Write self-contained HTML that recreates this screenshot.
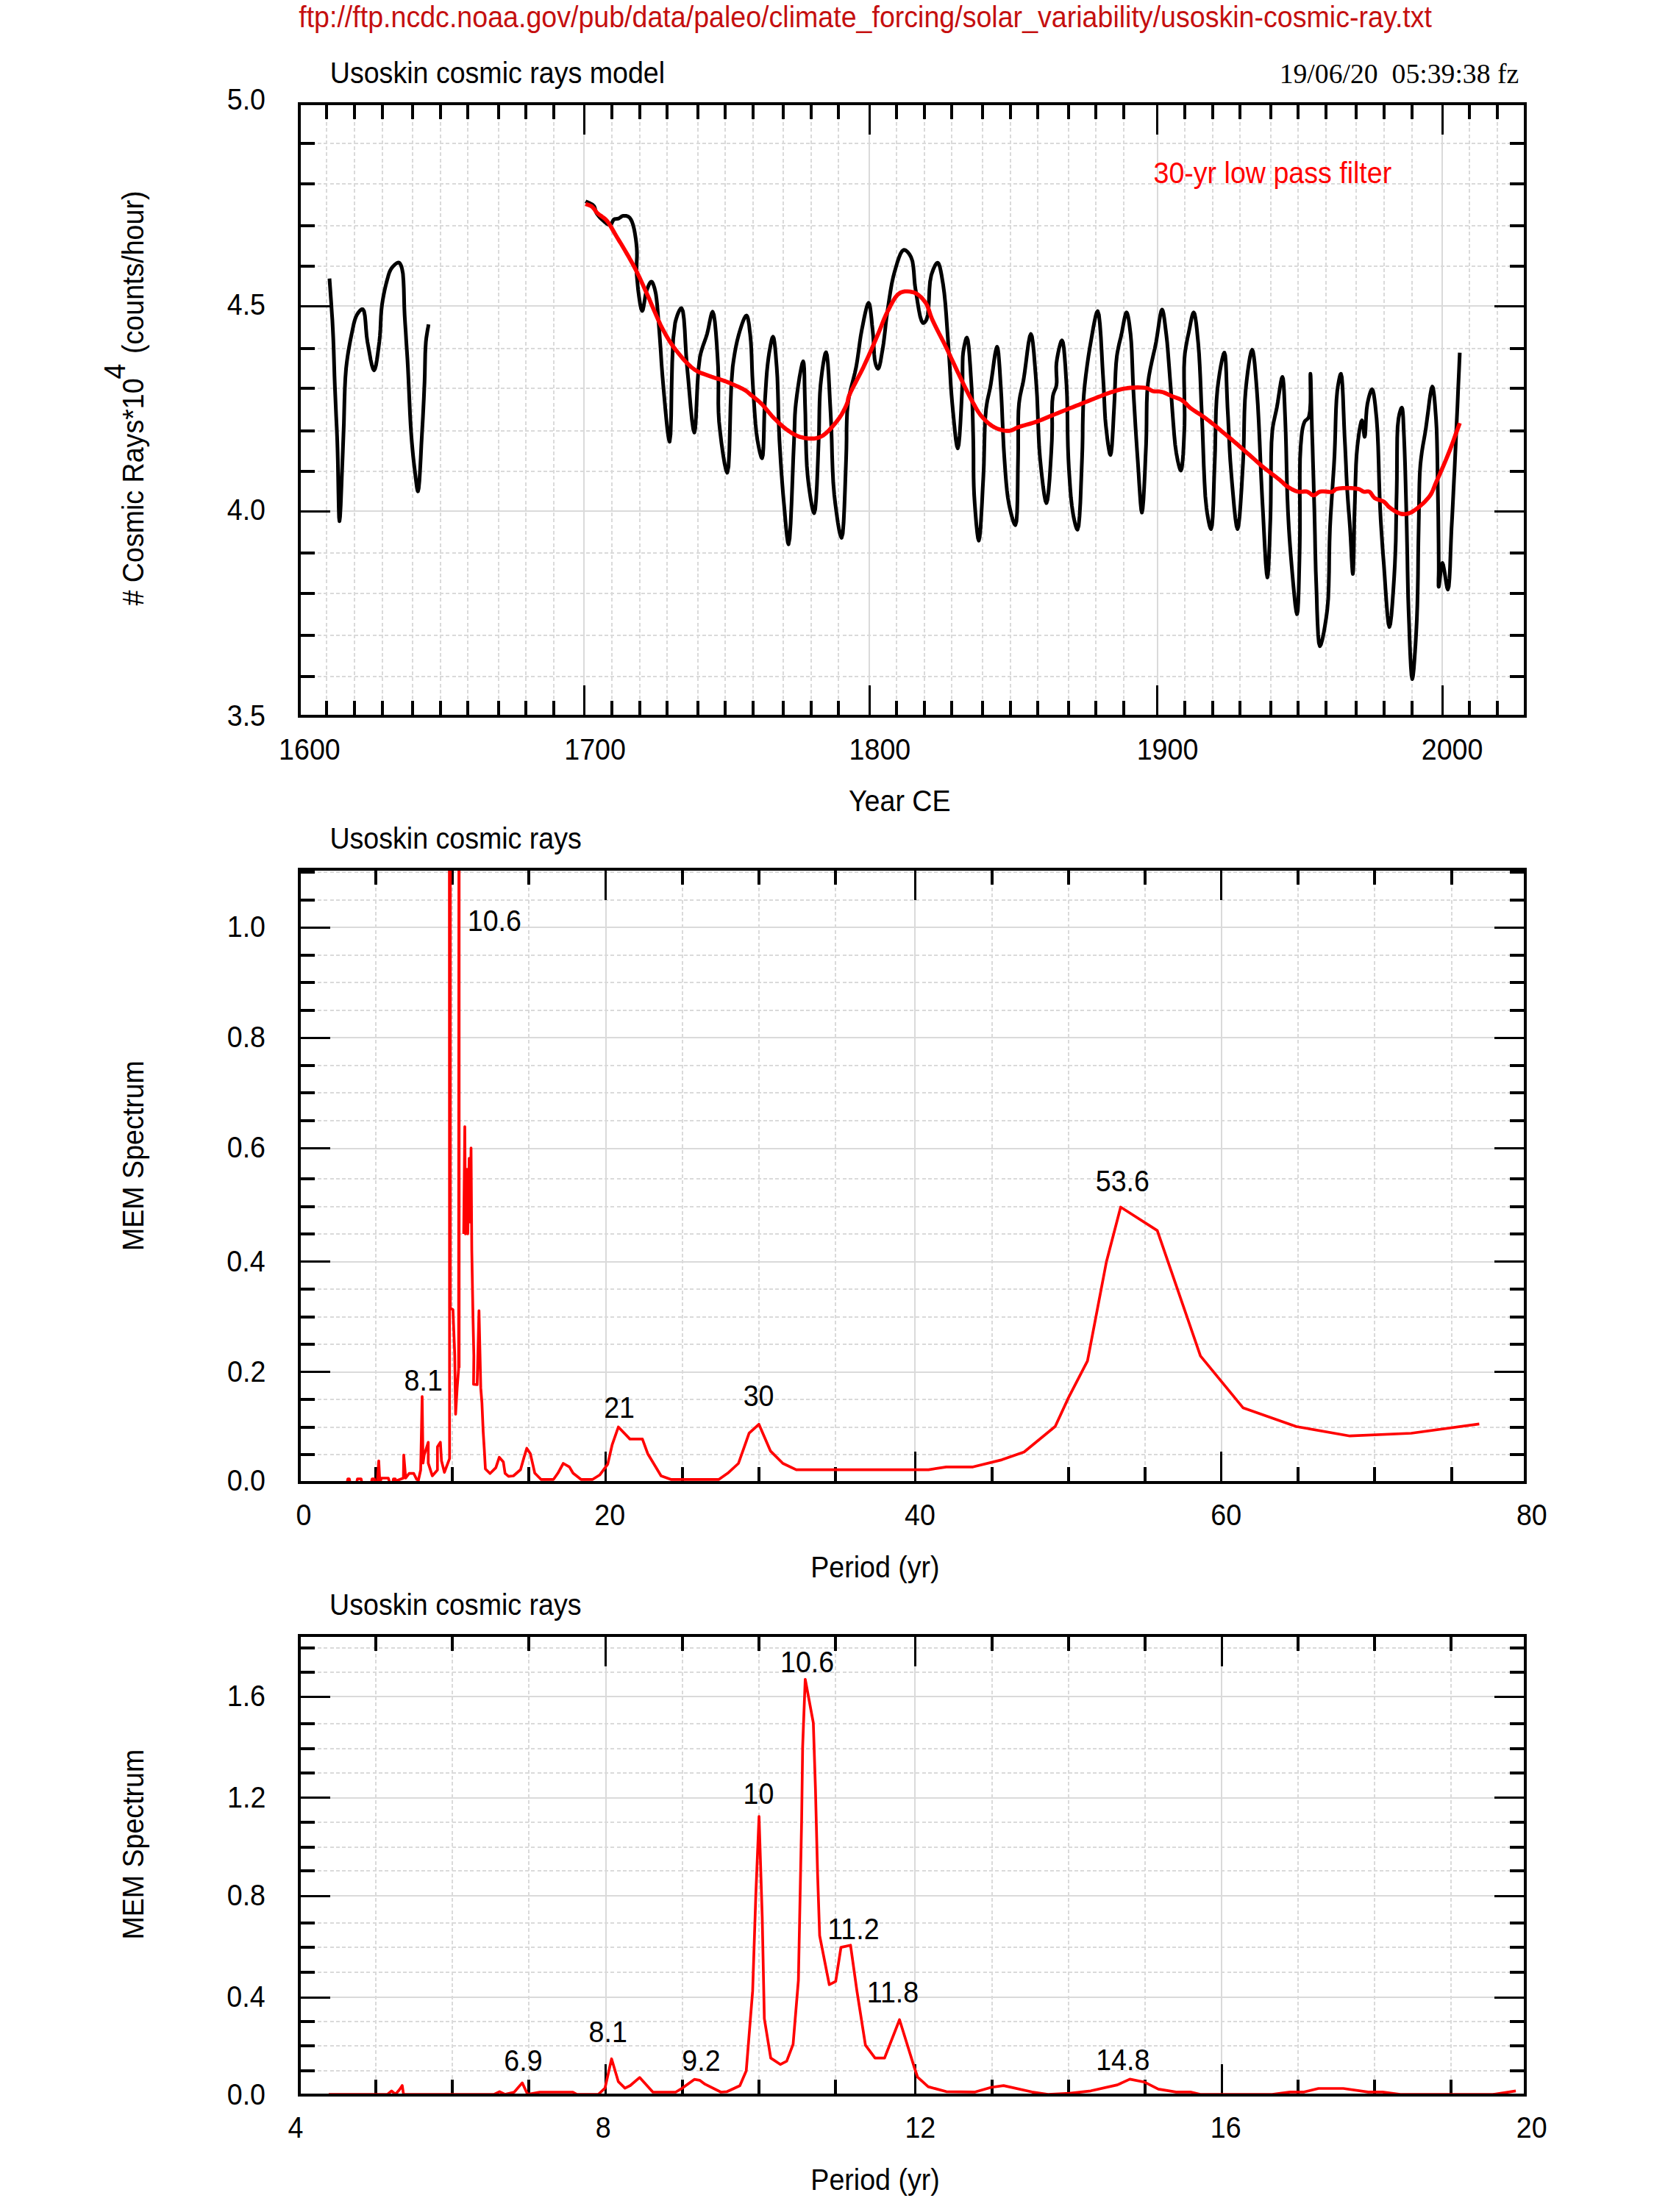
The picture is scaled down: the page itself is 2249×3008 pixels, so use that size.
<!DOCTYPE html><html><head><meta charset="utf-8"><title>Usoskin cosmic rays</title><style>html,body{margin:0;padding:0;background:#fff;width:2249px;height:3008px;overflow:hidden}svg{display:block}</style></head><body><svg width="2249" height="3008" viewBox="0 0 2249 3008">
<rect width="100%" height="100%" fill="#fff"/>
<defs><clipPath id="c1"><rect x="407" y="141" width="1667" height="833"/></clipPath><clipPath id="c2"><rect x="407" y="1182" width="1667" height="834"/></clipPath><clipPath id="c3"><rect x="407" y="2224" width="1667" height="625"/></clipPath></defs>
<line x1="444.0" y1="141" x2="444.0" y2="974" stroke="#dadada" stroke-width="2" stroke-dasharray="5 3.3" shape-rendering="crispEdges"/>
<line x1="482.0" y1="141" x2="482.0" y2="974" stroke="#dadada" stroke-width="2" stroke-dasharray="5 3.3" shape-rendering="crispEdges"/>
<line x1="520.0" y1="141" x2="520.0" y2="974" stroke="#dadada" stroke-width="2" stroke-dasharray="5 3.3" shape-rendering="crispEdges"/>
<line x1="561.0" y1="141" x2="561.0" y2="974" stroke="#dadada" stroke-width="2" stroke-dasharray="5 3.3" shape-rendering="crispEdges"/>
<line x1="599.0" y1="141" x2="599.0" y2="974" stroke="#dadada" stroke-width="2" stroke-dasharray="5 3.3" shape-rendering="crispEdges"/>
<line x1="636.0" y1="141" x2="636.0" y2="974" stroke="#dadada" stroke-width="2" stroke-dasharray="5 3.3" shape-rendering="crispEdges"/>
<line x1="678.0" y1="141" x2="678.0" y2="974" stroke="#dadada" stroke-width="2" stroke-dasharray="5 3.3" shape-rendering="crispEdges"/>
<line x1="715.0" y1="141" x2="715.0" y2="974" stroke="#dadada" stroke-width="2" stroke-dasharray="5 3.3" shape-rendering="crispEdges"/>
<line x1="753.0" y1="141" x2="753.0" y2="974" stroke="#dadada" stroke-width="2" stroke-dasharray="5 3.3" shape-rendering="crispEdges"/>
<line x1="794.0" y1="141" x2="794.0" y2="974" stroke="#dadada" stroke-width="2" shape-rendering="crispEdges"/>
<line x1="832.0" y1="141" x2="832.0" y2="974" stroke="#dadada" stroke-width="2" stroke-dasharray="5 3.3" shape-rendering="crispEdges"/>
<line x1="870.0" y1="141" x2="870.0" y2="974" stroke="#dadada" stroke-width="2" stroke-dasharray="5 3.3" shape-rendering="crispEdges"/>
<line x1="907.0" y1="141" x2="907.0" y2="974" stroke="#dadada" stroke-width="2" stroke-dasharray="5 3.3" shape-rendering="crispEdges"/>
<line x1="949.0" y1="141" x2="949.0" y2="974" stroke="#dadada" stroke-width="2" stroke-dasharray="5 3.3" shape-rendering="crispEdges"/>
<line x1="986.0" y1="141" x2="986.0" y2="974" stroke="#dadada" stroke-width="2" stroke-dasharray="5 3.3" shape-rendering="crispEdges"/>
<line x1="1024.0" y1="141" x2="1024.0" y2="974" stroke="#dadada" stroke-width="2" stroke-dasharray="5 3.3" shape-rendering="crispEdges"/>
<line x1="1065.0" y1="141" x2="1065.0" y2="974" stroke="#dadada" stroke-width="2" stroke-dasharray="5 3.3" shape-rendering="crispEdges"/>
<line x1="1103.0" y1="141" x2="1103.0" y2="974" stroke="#dadada" stroke-width="2" stroke-dasharray="5 3.3" shape-rendering="crispEdges"/>
<line x1="1140.0" y1="141" x2="1140.0" y2="974" stroke="#dadada" stroke-width="2" stroke-dasharray="5 3.3" shape-rendering="crispEdges"/>
<line x1="1182.0" y1="141" x2="1182.0" y2="974" stroke="#dadada" stroke-width="2" shape-rendering="crispEdges"/>
<line x1="1219.0" y1="141" x2="1219.0" y2="974" stroke="#dadada" stroke-width="2" stroke-dasharray="5 3.3" shape-rendering="crispEdges"/>
<line x1="1257.0" y1="141" x2="1257.0" y2="974" stroke="#dadada" stroke-width="2" stroke-dasharray="5 3.3" shape-rendering="crispEdges"/>
<line x1="1294.0" y1="141" x2="1294.0" y2="974" stroke="#dadada" stroke-width="2" stroke-dasharray="5 3.3" shape-rendering="crispEdges"/>
<line x1="1336.0" y1="141" x2="1336.0" y2="974" stroke="#dadada" stroke-width="2" stroke-dasharray="5 3.3" shape-rendering="crispEdges"/>
<line x1="1374.0" y1="141" x2="1374.0" y2="974" stroke="#dadada" stroke-width="2" stroke-dasharray="5 3.3" shape-rendering="crispEdges"/>
<line x1="1411.0" y1="141" x2="1411.0" y2="974" stroke="#dadada" stroke-width="2" stroke-dasharray="5 3.3" shape-rendering="crispEdges"/>
<line x1="1453.0" y1="141" x2="1453.0" y2="974" stroke="#dadada" stroke-width="2" stroke-dasharray="5 3.3" shape-rendering="crispEdges"/>
<line x1="1490.0" y1="141" x2="1490.0" y2="974" stroke="#dadada" stroke-width="2" stroke-dasharray="5 3.3" shape-rendering="crispEdges"/>
<line x1="1528.0" y1="141" x2="1528.0" y2="974" stroke="#dadada" stroke-width="2" stroke-dasharray="5 3.3" shape-rendering="crispEdges"/>
<line x1="1574.0" y1="141" x2="1574.0" y2="974" stroke="#dadada" stroke-width="2" shape-rendering="crispEdges"/>
<line x1="1611.0" y1="141" x2="1611.0" y2="974" stroke="#dadada" stroke-width="2" stroke-dasharray="5 3.3" shape-rendering="crispEdges"/>
<line x1="1649.0" y1="141" x2="1649.0" y2="974" stroke="#dadada" stroke-width="2" stroke-dasharray="5 3.3" shape-rendering="crispEdges"/>
<line x1="1686.0" y1="141" x2="1686.0" y2="974" stroke="#dadada" stroke-width="2" stroke-dasharray="5 3.3" shape-rendering="crispEdges"/>
<line x1="1728.0" y1="141" x2="1728.0" y2="974" stroke="#dadada" stroke-width="2" stroke-dasharray="5 3.3" shape-rendering="crispEdges"/>
<line x1="1765.0" y1="141" x2="1765.0" y2="974" stroke="#dadada" stroke-width="2" stroke-dasharray="5 3.3" shape-rendering="crispEdges"/>
<line x1="1803.0" y1="141" x2="1803.0" y2="974" stroke="#dadada" stroke-width="2" stroke-dasharray="5 3.3" shape-rendering="crispEdges"/>
<line x1="1844.0" y1="141" x2="1844.0" y2="974" stroke="#dadada" stroke-width="2" stroke-dasharray="5 3.3" shape-rendering="crispEdges"/>
<line x1="1882.0" y1="141" x2="1882.0" y2="974" stroke="#dadada" stroke-width="2" stroke-dasharray="5 3.3" shape-rendering="crispEdges"/>
<line x1="1920.0" y1="141" x2="1920.0" y2="974" stroke="#dadada" stroke-width="2" stroke-dasharray="5 3.3" shape-rendering="crispEdges"/>
<line x1="1961.0" y1="141" x2="1961.0" y2="974" stroke="#dadada" stroke-width="2" shape-rendering="crispEdges"/>
<line x1="1998.0" y1="141" x2="1998.0" y2="974" stroke="#dadada" stroke-width="2" stroke-dasharray="5 3.3" shape-rendering="crispEdges"/>
<line x1="2036.0" y1="141" x2="2036.0" y2="974" stroke="#dadada" stroke-width="2" stroke-dasharray="5 3.3" shape-rendering="crispEdges"/>
<line x1="407" y1="195.0" x2="2074" y2="195.0" stroke="#dadada" stroke-width="2" stroke-dasharray="5 3.3" shape-rendering="crispEdges"/>
<line x1="407" y1="250.0" x2="2074" y2="250.0" stroke="#dadada" stroke-width="2" stroke-dasharray="5 3.3" shape-rendering="crispEdges"/>
<line x1="407" y1="307.0" x2="2074" y2="307.0" stroke="#dadada" stroke-width="2" stroke-dasharray="5 3.3" shape-rendering="crispEdges"/>
<line x1="407" y1="362.0" x2="2074" y2="362.0" stroke="#dadada" stroke-width="2" stroke-dasharray="5 3.3" shape-rendering="crispEdges"/>
<line x1="407" y1="416.0" x2="2074" y2="416.0" stroke="#dadada" stroke-width="2" shape-rendering="crispEdges"/>
<line x1="407" y1="474.0" x2="2074" y2="474.0" stroke="#dadada" stroke-width="2" stroke-dasharray="5 3.3" shape-rendering="crispEdges"/>
<line x1="407" y1="528.0" x2="2074" y2="528.0" stroke="#dadada" stroke-width="2" stroke-dasharray="5 3.3" shape-rendering="crispEdges"/>
<line x1="407" y1="586.0" x2="2074" y2="586.0" stroke="#dadada" stroke-width="2" stroke-dasharray="5 3.3" shape-rendering="crispEdges"/>
<line x1="407" y1="641.0" x2="2074" y2="641.0" stroke="#dadada" stroke-width="2" stroke-dasharray="5 3.3" shape-rendering="crispEdges"/>
<line x1="407" y1="695.0" x2="2074" y2="695.0" stroke="#dadada" stroke-width="2" shape-rendering="crispEdges"/>
<line x1="407" y1="752.0" x2="2074" y2="752.0" stroke="#dadada" stroke-width="2" stroke-dasharray="5 3.3" shape-rendering="crispEdges"/>
<line x1="407" y1="807.0" x2="2074" y2="807.0" stroke="#dadada" stroke-width="2" stroke-dasharray="5 3.3" shape-rendering="crispEdges"/>
<line x1="407" y1="864.0" x2="2074" y2="864.0" stroke="#dadada" stroke-width="2" stroke-dasharray="5 3.3" shape-rendering="crispEdges"/>
<line x1="407" y1="920.0" x2="2074" y2="920.0" stroke="#dadada" stroke-width="2" stroke-dasharray="5 3.3" shape-rendering="crispEdges"/>
<line x1="444.0" y1="974" x2="444.0" y2="953" stroke="#000" stroke-width="4" shape-rendering="crispEdges"/>
<line x1="444.0" y1="141" x2="444.0" y2="162" stroke="#000" stroke-width="4" shape-rendering="crispEdges"/>
<line x1="482.0" y1="974" x2="482.0" y2="953" stroke="#000" stroke-width="4" shape-rendering="crispEdges"/>
<line x1="482.0" y1="141" x2="482.0" y2="162" stroke="#000" stroke-width="4" shape-rendering="crispEdges"/>
<line x1="520.0" y1="974" x2="520.0" y2="953" stroke="#000" stroke-width="4" shape-rendering="crispEdges"/>
<line x1="520.0" y1="141" x2="520.0" y2="162" stroke="#000" stroke-width="4" shape-rendering="crispEdges"/>
<line x1="561.0" y1="974" x2="561.0" y2="953" stroke="#000" stroke-width="4" shape-rendering="crispEdges"/>
<line x1="561.0" y1="141" x2="561.0" y2="162" stroke="#000" stroke-width="4" shape-rendering="crispEdges"/>
<line x1="599.0" y1="974" x2="599.0" y2="953" stroke="#000" stroke-width="4" shape-rendering="crispEdges"/>
<line x1="599.0" y1="141" x2="599.0" y2="162" stroke="#000" stroke-width="4" shape-rendering="crispEdges"/>
<line x1="636.0" y1="974" x2="636.0" y2="953" stroke="#000" stroke-width="4" shape-rendering="crispEdges"/>
<line x1="636.0" y1="141" x2="636.0" y2="162" stroke="#000" stroke-width="4" shape-rendering="crispEdges"/>
<line x1="678.0" y1="974" x2="678.0" y2="953" stroke="#000" stroke-width="4" shape-rendering="crispEdges"/>
<line x1="678.0" y1="141" x2="678.0" y2="162" stroke="#000" stroke-width="4" shape-rendering="crispEdges"/>
<line x1="715.0" y1="974" x2="715.0" y2="953" stroke="#000" stroke-width="4" shape-rendering="crispEdges"/>
<line x1="715.0" y1="141" x2="715.0" y2="162" stroke="#000" stroke-width="4" shape-rendering="crispEdges"/>
<line x1="753.0" y1="974" x2="753.0" y2="953" stroke="#000" stroke-width="4" shape-rendering="crispEdges"/>
<line x1="753.0" y1="141" x2="753.0" y2="162" stroke="#000" stroke-width="4" shape-rendering="crispEdges"/>
<line x1="794.5" y1="974" x2="794.5" y2="932" stroke="#000" stroke-width="3" shape-rendering="crispEdges"/>
<line x1="794.5" y1="141" x2="794.5" y2="183" stroke="#000" stroke-width="3" shape-rendering="crispEdges"/>
<line x1="832.0" y1="974" x2="832.0" y2="953" stroke="#000" stroke-width="4" shape-rendering="crispEdges"/>
<line x1="832.0" y1="141" x2="832.0" y2="162" stroke="#000" stroke-width="4" shape-rendering="crispEdges"/>
<line x1="870.0" y1="974" x2="870.0" y2="953" stroke="#000" stroke-width="4" shape-rendering="crispEdges"/>
<line x1="870.0" y1="141" x2="870.0" y2="162" stroke="#000" stroke-width="4" shape-rendering="crispEdges"/>
<line x1="907.0" y1="974" x2="907.0" y2="953" stroke="#000" stroke-width="4" shape-rendering="crispEdges"/>
<line x1="907.0" y1="141" x2="907.0" y2="162" stroke="#000" stroke-width="4" shape-rendering="crispEdges"/>
<line x1="949.0" y1="974" x2="949.0" y2="953" stroke="#000" stroke-width="4" shape-rendering="crispEdges"/>
<line x1="949.0" y1="141" x2="949.0" y2="162" stroke="#000" stroke-width="4" shape-rendering="crispEdges"/>
<line x1="986.0" y1="974" x2="986.0" y2="953" stroke="#000" stroke-width="4" shape-rendering="crispEdges"/>
<line x1="986.0" y1="141" x2="986.0" y2="162" stroke="#000" stroke-width="4" shape-rendering="crispEdges"/>
<line x1="1024.0" y1="974" x2="1024.0" y2="953" stroke="#000" stroke-width="4" shape-rendering="crispEdges"/>
<line x1="1024.0" y1="141" x2="1024.0" y2="162" stroke="#000" stroke-width="4" shape-rendering="crispEdges"/>
<line x1="1065.0" y1="974" x2="1065.0" y2="953" stroke="#000" stroke-width="4" shape-rendering="crispEdges"/>
<line x1="1065.0" y1="141" x2="1065.0" y2="162" stroke="#000" stroke-width="4" shape-rendering="crispEdges"/>
<line x1="1103.0" y1="974" x2="1103.0" y2="953" stroke="#000" stroke-width="4" shape-rendering="crispEdges"/>
<line x1="1103.0" y1="141" x2="1103.0" y2="162" stroke="#000" stroke-width="4" shape-rendering="crispEdges"/>
<line x1="1140.0" y1="974" x2="1140.0" y2="953" stroke="#000" stroke-width="4" shape-rendering="crispEdges"/>
<line x1="1140.0" y1="141" x2="1140.0" y2="162" stroke="#000" stroke-width="4" shape-rendering="crispEdges"/>
<line x1="1182.5" y1="974" x2="1182.5" y2="932" stroke="#000" stroke-width="3" shape-rendering="crispEdges"/>
<line x1="1182.5" y1="141" x2="1182.5" y2="183" stroke="#000" stroke-width="3" shape-rendering="crispEdges"/>
<line x1="1219.0" y1="974" x2="1219.0" y2="953" stroke="#000" stroke-width="4" shape-rendering="crispEdges"/>
<line x1="1219.0" y1="141" x2="1219.0" y2="162" stroke="#000" stroke-width="4" shape-rendering="crispEdges"/>
<line x1="1257.0" y1="974" x2="1257.0" y2="953" stroke="#000" stroke-width="4" shape-rendering="crispEdges"/>
<line x1="1257.0" y1="141" x2="1257.0" y2="162" stroke="#000" stroke-width="4" shape-rendering="crispEdges"/>
<line x1="1294.0" y1="974" x2="1294.0" y2="953" stroke="#000" stroke-width="4" shape-rendering="crispEdges"/>
<line x1="1294.0" y1="141" x2="1294.0" y2="162" stroke="#000" stroke-width="4" shape-rendering="crispEdges"/>
<line x1="1336.0" y1="974" x2="1336.0" y2="953" stroke="#000" stroke-width="4" shape-rendering="crispEdges"/>
<line x1="1336.0" y1="141" x2="1336.0" y2="162" stroke="#000" stroke-width="4" shape-rendering="crispEdges"/>
<line x1="1374.0" y1="974" x2="1374.0" y2="953" stroke="#000" stroke-width="4" shape-rendering="crispEdges"/>
<line x1="1374.0" y1="141" x2="1374.0" y2="162" stroke="#000" stroke-width="4" shape-rendering="crispEdges"/>
<line x1="1411.0" y1="974" x2="1411.0" y2="953" stroke="#000" stroke-width="4" shape-rendering="crispEdges"/>
<line x1="1411.0" y1="141" x2="1411.0" y2="162" stroke="#000" stroke-width="4" shape-rendering="crispEdges"/>
<line x1="1453.0" y1="974" x2="1453.0" y2="953" stroke="#000" stroke-width="4" shape-rendering="crispEdges"/>
<line x1="1453.0" y1="141" x2="1453.0" y2="162" stroke="#000" stroke-width="4" shape-rendering="crispEdges"/>
<line x1="1490.0" y1="974" x2="1490.0" y2="953" stroke="#000" stroke-width="4" shape-rendering="crispEdges"/>
<line x1="1490.0" y1="141" x2="1490.0" y2="162" stroke="#000" stroke-width="4" shape-rendering="crispEdges"/>
<line x1="1528.0" y1="974" x2="1528.0" y2="953" stroke="#000" stroke-width="4" shape-rendering="crispEdges"/>
<line x1="1528.0" y1="141" x2="1528.0" y2="162" stroke="#000" stroke-width="4" shape-rendering="crispEdges"/>
<line x1="1573.5" y1="974" x2="1573.5" y2="932" stroke="#000" stroke-width="3" shape-rendering="crispEdges"/>
<line x1="1573.5" y1="141" x2="1573.5" y2="183" stroke="#000" stroke-width="3" shape-rendering="crispEdges"/>
<line x1="1611.0" y1="974" x2="1611.0" y2="953" stroke="#000" stroke-width="4" shape-rendering="crispEdges"/>
<line x1="1611.0" y1="141" x2="1611.0" y2="162" stroke="#000" stroke-width="4" shape-rendering="crispEdges"/>
<line x1="1649.0" y1="974" x2="1649.0" y2="953" stroke="#000" stroke-width="4" shape-rendering="crispEdges"/>
<line x1="1649.0" y1="141" x2="1649.0" y2="162" stroke="#000" stroke-width="4" shape-rendering="crispEdges"/>
<line x1="1686.0" y1="974" x2="1686.0" y2="953" stroke="#000" stroke-width="4" shape-rendering="crispEdges"/>
<line x1="1686.0" y1="141" x2="1686.0" y2="162" stroke="#000" stroke-width="4" shape-rendering="crispEdges"/>
<line x1="1728.0" y1="974" x2="1728.0" y2="953" stroke="#000" stroke-width="4" shape-rendering="crispEdges"/>
<line x1="1728.0" y1="141" x2="1728.0" y2="162" stroke="#000" stroke-width="4" shape-rendering="crispEdges"/>
<line x1="1765.0" y1="974" x2="1765.0" y2="953" stroke="#000" stroke-width="4" shape-rendering="crispEdges"/>
<line x1="1765.0" y1="141" x2="1765.0" y2="162" stroke="#000" stroke-width="4" shape-rendering="crispEdges"/>
<line x1="1803.0" y1="974" x2="1803.0" y2="953" stroke="#000" stroke-width="4" shape-rendering="crispEdges"/>
<line x1="1803.0" y1="141" x2="1803.0" y2="162" stroke="#000" stroke-width="4" shape-rendering="crispEdges"/>
<line x1="1844.0" y1="974" x2="1844.0" y2="953" stroke="#000" stroke-width="4" shape-rendering="crispEdges"/>
<line x1="1844.0" y1="141" x2="1844.0" y2="162" stroke="#000" stroke-width="4" shape-rendering="crispEdges"/>
<line x1="1882.0" y1="974" x2="1882.0" y2="953" stroke="#000" stroke-width="4" shape-rendering="crispEdges"/>
<line x1="1882.0" y1="141" x2="1882.0" y2="162" stroke="#000" stroke-width="4" shape-rendering="crispEdges"/>
<line x1="1920.0" y1="974" x2="1920.0" y2="953" stroke="#000" stroke-width="4" shape-rendering="crispEdges"/>
<line x1="1920.0" y1="141" x2="1920.0" y2="162" stroke="#000" stroke-width="4" shape-rendering="crispEdges"/>
<line x1="1961.5" y1="974" x2="1961.5" y2="932" stroke="#000" stroke-width="3" shape-rendering="crispEdges"/>
<line x1="1961.5" y1="141" x2="1961.5" y2="183" stroke="#000" stroke-width="3" shape-rendering="crispEdges"/>
<line x1="1998.0" y1="974" x2="1998.0" y2="953" stroke="#000" stroke-width="4" shape-rendering="crispEdges"/>
<line x1="1998.0" y1="141" x2="1998.0" y2="162" stroke="#000" stroke-width="4" shape-rendering="crispEdges"/>
<line x1="2036.0" y1="974" x2="2036.0" y2="953" stroke="#000" stroke-width="4" shape-rendering="crispEdges"/>
<line x1="2036.0" y1="141" x2="2036.0" y2="162" stroke="#000" stroke-width="4" shape-rendering="crispEdges"/>
<line x1="407" y1="195.0" x2="428" y2="195.0" stroke="#000" stroke-width="4" shape-rendering="crispEdges"/>
<line x1="2074" y1="195.0" x2="2053" y2="195.0" stroke="#000" stroke-width="4" shape-rendering="crispEdges"/>
<line x1="407" y1="250.0" x2="428" y2="250.0" stroke="#000" stroke-width="4" shape-rendering="crispEdges"/>
<line x1="2074" y1="250.0" x2="2053" y2="250.0" stroke="#000" stroke-width="4" shape-rendering="crispEdges"/>
<line x1="407" y1="307.0" x2="428" y2="307.0" stroke="#000" stroke-width="4" shape-rendering="crispEdges"/>
<line x1="2074" y1="307.0" x2="2053" y2="307.0" stroke="#000" stroke-width="4" shape-rendering="crispEdges"/>
<line x1="407" y1="362.0" x2="428" y2="362.0" stroke="#000" stroke-width="4" shape-rendering="crispEdges"/>
<line x1="2074" y1="362.0" x2="2053" y2="362.0" stroke="#000" stroke-width="4" shape-rendering="crispEdges"/>
<line x1="407" y1="416.5" x2="449" y2="416.5" stroke="#000" stroke-width="3" shape-rendering="crispEdges"/>
<line x1="2074" y1="416.5" x2="2032" y2="416.5" stroke="#000" stroke-width="3" shape-rendering="crispEdges"/>
<line x1="407" y1="474.0" x2="428" y2="474.0" stroke="#000" stroke-width="4" shape-rendering="crispEdges"/>
<line x1="2074" y1="474.0" x2="2053" y2="474.0" stroke="#000" stroke-width="4" shape-rendering="crispEdges"/>
<line x1="407" y1="528.0" x2="428" y2="528.0" stroke="#000" stroke-width="4" shape-rendering="crispEdges"/>
<line x1="2074" y1="528.0" x2="2053" y2="528.0" stroke="#000" stroke-width="4" shape-rendering="crispEdges"/>
<line x1="407" y1="586.0" x2="428" y2="586.0" stroke="#000" stroke-width="4" shape-rendering="crispEdges"/>
<line x1="2074" y1="586.0" x2="2053" y2="586.0" stroke="#000" stroke-width="4" shape-rendering="crispEdges"/>
<line x1="407" y1="641.0" x2="428" y2="641.0" stroke="#000" stroke-width="4" shape-rendering="crispEdges"/>
<line x1="2074" y1="641.0" x2="2053" y2="641.0" stroke="#000" stroke-width="4" shape-rendering="crispEdges"/>
<line x1="407" y1="695.5" x2="449" y2="695.5" stroke="#000" stroke-width="3" shape-rendering="crispEdges"/>
<line x1="2074" y1="695.5" x2="2032" y2="695.5" stroke="#000" stroke-width="3" shape-rendering="crispEdges"/>
<line x1="407" y1="752.0" x2="428" y2="752.0" stroke="#000" stroke-width="4" shape-rendering="crispEdges"/>
<line x1="2074" y1="752.0" x2="2053" y2="752.0" stroke="#000" stroke-width="4" shape-rendering="crispEdges"/>
<line x1="407" y1="807.0" x2="428" y2="807.0" stroke="#000" stroke-width="4" shape-rendering="crispEdges"/>
<line x1="2074" y1="807.0" x2="2053" y2="807.0" stroke="#000" stroke-width="4" shape-rendering="crispEdges"/>
<line x1="407" y1="864.0" x2="428" y2="864.0" stroke="#000" stroke-width="4" shape-rendering="crispEdges"/>
<line x1="2074" y1="864.0" x2="2053" y2="864.0" stroke="#000" stroke-width="4" shape-rendering="crispEdges"/>
<line x1="407" y1="920.0" x2="428" y2="920.0" stroke="#000" stroke-width="4" shape-rendering="crispEdges"/>
<line x1="2074" y1="920.0" x2="2053" y2="920.0" stroke="#000" stroke-width="4" shape-rendering="crispEdges"/>
<polyline points="448.0,378.8 448.8,390.0 449.6,401.2 450.4,412.4 451.1,423.7 451.9,435.0 452.5,446.6 453.1,459.2 453.6,472.0 454.0,484.9 454.4,497.9 454.8,511.1 455.3,524.3 455.9,538.2 456.5,552.1 457.1,566.1 457.8,580.3 458.4,594.7 458.9,609.3 459.4,627.7 459.8,649.3 460.2,671.0 460.6,690.1 461.0,703.6 461.6,708.8 462.4,702.6 463.3,686.5 464.2,663.7 465.2,638.0 466.2,612.6 467.0,591.2 467.6,575.1 468.0,559.0 468.4,543.3 468.9,528.2 469.6,513.9 470.6,500.8 471.6,492.2 472.7,484.1 473.9,476.5 475.2,469.2 476.5,462.3 477.9,455.6 478.9,450.5 480.0,445.4 481.0,440.5 482.2,436.0 483.5,431.9 485.1,428.5 486.3,426.5 487.7,424.5 489.2,422.7 490.6,421.3 492.0,420.5 493.2,420.4 495.0,423.2 496.2,429.4 497.0,437.7 497.7,447.2 498.5,456.6 499.6,464.7 501.0,472.2 502.5,480.7 504.0,489.2 505.6,496.4 507.2,501.6 508.6,503.5 509.9,501.6 511.3,496.5 512.5,489.3 513.7,480.9 514.8,472.4 515.8,464.7 516.6,456.5 517.2,447.9 517.6,439.2 518.0,430.4 518.6,421.9 519.5,414.0 520.5,407.7 521.6,401.5 522.8,395.5 524.1,389.8 525.4,384.5 526.7,379.7 527.5,376.8 528.2,374.2 529.0,371.7 529.9,369.4 530.9,367.2 532.1,365.2 533.5,363.3 535.3,361.4 537.1,359.6 539.0,358.1 540.7,357.2 542.1,357.0 543.1,357.5 543.9,358.4 544.7,359.7 545.4,361.3 546.0,363.2 546.6,365.2 547.9,372.2 548.6,381.7 549.1,392.8 549.4,404.8 549.7,417.0 550.2,428.5 550.9,440.2 551.7,451.9 552.4,463.8 553.2,475.9 554.0,488.2 554.7,500.8 555.4,515.5 556.1,531.0 556.8,546.8 557.5,562.4 558.3,577.4 559.2,591.2 560.0,601.3 560.9,611.2 561.8,620.7 562.8,629.7 563.8,638.0 564.7,645.5 565.3,650.4 565.9,655.4 566.5,660.3 567.1,664.3 567.7,667.1 568.3,668.1 569.3,664.1 570.3,653.7 571.2,639.1 572.1,622.3 572.9,605.7 573.7,591.2 574.4,578.9 575.1,566.6 575.7,554.3 576.3,542.2 576.8,530.3 577.3,518.9 577.6,509.2 577.8,499.4 578.0,489.9 578.2,480.8 578.6,472.3 579.1,464.7 579.6,460.2 580.2,456.1 580.8,452.3 581.4,448.7 582.1,445.0 582.7,441.2" fill="none" stroke="#000" stroke-width="5.0" stroke-linejoin="round" stroke-linecap="butt" clip-path="url(#c1)"/>
<polyline points="796.2,273.6 798.1,274.6 800.2,275.5 802.2,276.4 804.1,277.4 805.9,278.5 807.3,279.8 808.2,281.2 808.9,282.9 809.3,284.6 809.8,286.4 810.3,288.1 811.1,289.8 812.3,291.6 813.6,293.3 815.0,295.0 816.6,296.7 818.2,298.3 819.8,299.7 821.4,301.1 823.1,302.6 824.9,304.0 826.7,305.1 828.3,305.8 829.7,305.9 830.7,305.3 831.5,304.1 832.3,302.6 833.0,300.9 833.8,299.5 834.7,298.5 835.6,298.0 836.6,297.8 837.7,297.7 838.8,297.6 839.9,297.5 840.9,297.2 841.9,296.7 843.0,296.0 844.0,295.2 845.0,294.5 846.0,293.9 847.1,293.5 848.3,293.4 849.6,293.4 851.0,293.5 852.3,293.8 853.5,294.2 854.6,294.8 855.6,295.6 856.6,296.6 857.4,297.7 858.1,299.0 858.9,300.5 859.6,302.2 861.0,306.4 862.3,311.8 863.4,317.8 864.4,324.3 865.2,330.8 865.8,337.0 866.1,343.1 866.1,349.1 865.8,355.3 865.6,361.5 865.5,367.8 865.8,374.3 866.6,383.1 867.6,393.6 869.0,404.2 870.4,413.6 871.8,420.2 873.2,422.8 874.2,421.2 875.1,417.0 876.1,411.2 877.1,404.8 878.2,398.8 879.5,394.2 880.5,391.7 881.5,389.2 882.6,386.8 883.7,384.8 884.7,383.5 885.7,383.0 886.6,383.5 887.5,384.8 888.3,386.7 889.1,389.0 889.9,391.6 890.6,394.2 891.8,399.7 892.7,406.3 893.5,413.8 894.2,421.9 894.9,430.4 895.6,439.0 896.6,451.6 897.6,465.3 898.6,479.8 899.5,494.6 900.6,509.3 901.8,523.5 903.1,538.4 904.6,555.2 906.2,571.9 907.7,586.5 909.2,596.7 910.5,600.6 911.8,590.5 912.6,564.8 913.1,530.2 914.0,493.2 915.4,460.6 918.0,439.0 919.3,434.0 920.8,429.2 922.4,425.0 923.9,421.8 925.4,419.6 926.7,419.0 928.6,423.3 930.0,433.9 931.1,448.8 932.0,466.0 933.0,483.3 934.2,498.6 935.8,515.3 937.5,534.7 939.2,554.2 940.9,571.4 942.6,583.5 944.1,588.1 945.4,582.2 946.4,567.1 947.3,546.2 948.3,523.4 949.7,502.2 951.6,486.2 953.0,479.7 954.7,474.0 956.4,468.8 958.2,463.9 959.9,459.0 961.5,453.9 962.9,448.2 964.2,441.6 965.5,435.1 966.7,429.4 967.9,425.5 969.0,424.0 970.6,427.9 972.1,437.9 973.4,452.1 974.6,468.2 975.6,484.4 976.4,498.6 976.8,511.1 976.9,523.6 976.8,536.1 976.7,548.6 977.0,560.9 977.7,573.2 979.1,586.6 980.9,601.8 983.0,616.9 985.2,630.1 987.2,639.3 988.9,642.8 990.6,634.5 991.7,613.2 992.5,583.9 993.3,551.7 994.5,521.6 996.3,498.6 997.7,488.5 999.2,479.2 1000.8,470.6 1002.5,462.8 1004.4,455.5 1006.3,448.9 1007.7,444.5 1009.2,440.0 1010.8,435.7 1012.3,432.2 1013.8,429.8 1015.0,429.0 1016.1,430.2 1017.1,433.3 1017.9,437.7 1018.7,443.0 1019.3,448.7 1020.0,454.2 1020.9,463.7 1021.6,474.7 1022.1,486.7 1022.5,499.1 1023.0,511.7 1023.7,523.8 1024.5,536.6 1025.4,550.0 1026.3,563.5 1027.3,576.4 1028.5,588.3 1029.9,598.4 1030.9,603.9 1032.0,609.6 1033.1,614.8 1034.3,619.2 1035.3,622.2 1036.2,623.2 1037.3,619.2 1038.0,609.0 1038.5,594.7 1038.9,578.4 1039.3,562.3 1039.9,548.6 1040.6,537.6 1041.3,526.6 1042.0,515.7 1042.8,505.2 1043.8,495.4 1044.9,486.5 1045.8,480.4 1046.9,474.0 1048.0,467.9 1049.1,462.7 1050.1,459.2 1051.1,457.9 1052.1,459.8 1053.0,464.9 1053.9,472.2 1054.7,480.9 1055.4,490.1 1056.1,498.9 1057.0,513.0 1057.6,529.1 1058.1,546.3 1058.5,564.1 1059.1,581.7 1059.8,598.4 1060.7,613.5 1061.6,628.6 1062.6,643.5 1063.7,658.1 1064.8,672.1 1066.0,685.4 1067.0,696.5 1068.0,708.6 1069.1,720.4 1070.2,730.5 1071.2,737.5 1072.2,740.1 1073.7,732.0 1075.1,711.1 1076.4,682.4 1077.6,650.7 1078.7,621.1 1079.7,598.4 1080.1,588.7 1080.4,580.0 1080.6,572.1 1080.9,564.5 1081.4,556.8 1082.2,548.6 1083.5,537.9 1085.2,525.5 1087.1,513.0 1089.1,502.1 1090.8,494.3 1092.1,491.4 1092.9,494.2 1093.5,501.5 1093.8,511.9 1094.0,524.2 1094.3,536.8 1094.6,548.6 1095.1,564.0 1095.4,581.0 1095.8,598.8 1096.3,616.5 1097.1,633.2 1098.3,648.1 1099.5,658.6 1101.0,669.7 1102.6,680.3 1104.2,689.3 1105.7,695.5 1107.0,697.8 1108.5,692.5 1109.7,678.8 1110.8,659.6 1111.7,637.8 1112.5,616.4 1113.2,598.4 1113.7,585.1 1113.9,572.0 1114.1,559.2 1114.4,546.8 1114.9,535.0 1115.7,523.8 1116.7,514.6 1117.9,504.7 1119.3,495.0 1120.7,486.8 1122.0,481.1 1123.2,479.0 1124.5,483.1 1125.7,493.8 1126.7,509.0 1127.6,526.7 1128.5,544.8 1129.4,561.1 1130.3,579.2 1130.9,598.5 1131.4,618.3 1132.1,637.8 1133.0,656.3 1134.4,673.0 1135.8,685.2 1137.5,698.3 1139.3,710.8 1141.1,721.4 1142.9,728.7 1144.3,731.4 1145.9,725.6 1147.1,710.5 1148.1,689.5 1149.0,665.8 1149.8,642.6 1150.5,623.2 1150.9,609.8 1151.1,596.7 1151.1,584.1 1151.4,571.8 1151.9,560.0 1153.0,548.6 1154.4,539.7 1156.3,531.2 1158.3,523.1 1160.4,515.1 1162.4,507.1 1164.2,498.9 1165.6,490.5 1166.8,482.1 1168.0,473.6 1169.1,465.2 1170.3,457.1 1171.7,449.2 1173.2,441.8 1174.8,433.5 1176.5,425.5 1178.2,418.5 1179.7,413.7 1181.1,411.9 1182.3,413.8 1183.3,418.7 1184.2,425.7 1185.1,433.8 1185.8,441.9 1186.6,449.2 1187.3,456.8 1187.8,465.2 1188.2,473.7 1188.7,481.7 1189.3,488.6 1190.3,493.9 1190.8,495.7 1191.4,497.5 1192.1,499.1 1192.7,500.3 1193.4,501.1 1194.0,501.4 1195.1,500.0 1196.2,496.5 1197.3,491.6 1198.3,485.7 1199.3,479.7 1200.3,474.0 1201.4,466.6 1202.4,458.6 1203.4,450.2 1204.3,441.6 1205.3,432.9 1206.5,424.3 1207.9,415.1 1209.3,405.6 1210.8,396.0 1212.4,386.6 1214.3,377.7 1216.4,369.6 1218.2,363.4 1220.1,356.9 1222.2,350.7 1224.3,345.3 1226.6,341.5 1228.9,339.8 1230.5,340.0 1232.3,341.0 1234.1,342.6 1235.8,344.7 1237.4,347.2 1238.8,349.7 1240.7,355.2 1241.8,362.1 1242.6,370.0 1243.2,378.3 1243.9,386.7 1245.0,394.5 1246.4,402.9 1247.9,412.5 1249.5,422.0 1251.2,430.4 1253.1,436.5 1255.0,439.2 1255.8,439.2 1256.7,438.8 1257.6,438.0 1258.4,437.0 1259.2,435.7 1260.0,434.3 1261.6,427.8 1262.6,418.0 1263.2,406.4 1263.7,394.3 1264.6,383.2 1266.2,374.6 1267.5,370.6 1268.9,366.6 1270.5,362.9 1272.0,359.9 1273.5,357.9 1274.9,357.2 1276.4,358.6 1277.8,362.3 1279.0,367.5 1280.2,373.7 1281.3,380.4 1282.4,387.0 1284.0,398.9 1285.4,412.8 1286.6,428.0 1287.7,443.8 1288.8,459.3 1289.8,474.0 1290.7,486.9 1291.5,499.6 1292.2,512.1 1292.9,524.5 1293.8,536.7 1294.8,548.6 1295.9,560.5 1297.2,573.9 1298.5,587.1 1299.8,598.6 1301.1,606.6 1302.3,609.6 1303.6,604.9 1304.8,592.7 1305.9,575.7 1306.9,556.7 1307.8,538.5 1308.5,523.8 1308.8,515.3 1308.8,507.1 1308.8,499.4 1308.9,492.0 1309.1,485.2 1309.7,479.0 1310.4,474.7 1311.2,470.2 1312.1,466.0 1313.0,462.4 1313.9,460.0 1314.7,459.1 1316.0,462.4 1317.2,471.0 1318.2,483.1 1319.2,497.1 1320.1,511.3 1320.9,523.8 1321.6,535.9 1322.1,548.3 1322.5,560.8 1322.8,573.3 1323.1,585.9 1323.4,598.4 1323.6,610.9 1323.7,623.5 1323.7,636.1 1323.8,648.7 1324.1,661.0 1324.6,673.0 1325.4,685.1 1326.4,698.7 1327.5,712.2 1328.7,723.8 1329.8,732.0 1330.9,735.1 1332.0,730.7 1333.2,719.1 1334.2,702.6 1335.3,683.7 1336.2,664.8 1337.1,648.1 1337.8,632.4 1338.2,615.9 1338.6,599.3 1339.0,583.3 1339.7,568.7 1340.8,556.1 1341.7,549.8 1342.6,544.4 1343.7,539.4 1344.8,534.5 1345.9,529.4 1347.0,523.8 1348.4,514.6 1350.0,503.4 1351.5,491.9 1353.0,481.7 1354.5,474.4 1355.7,471.6 1356.8,474.1 1357.7,480.7 1358.5,490.2 1359.3,501.3 1360.0,512.9 1360.7,523.8 1361.6,538.8 1362.4,555.4 1363.1,573.0 1363.9,590.6 1364.7,607.6 1365.7,623.2 1366.5,634.7 1367.3,645.9 1368.2,656.8 1369.2,667.0 1370.4,676.6 1371.9,685.4 1373.2,691.5 1374.7,698.0 1376.3,704.1 1377.9,709.3 1379.4,712.8 1380.6,714.0 1382.1,709.1 1383.0,696.6 1383.5,679.2 1383.8,659.4 1384.0,639.9 1384.3,623.2 1384.5,610.0 1384.5,596.6 1384.5,583.5 1384.5,570.9 1384.8,559.1 1385.6,548.6 1386.4,542.5 1387.3,537.2 1388.4,532.3 1389.5,527.3 1390.7,522.1 1391.8,516.3 1393.4,505.7 1395.1,492.5 1396.8,478.7 1398.5,466.4 1400.2,457.6 1401.7,454.2 1403.2,457.6 1404.5,466.7 1405.8,479.5 1407.0,494.5 1408.2,509.9 1409.2,523.8 1410.2,539.6 1410.9,556.5 1411.5,573.9 1412.2,591.2 1413.0,607.8 1414.2,623.2 1415.4,635.6 1416.9,649.2 1418.4,662.2 1420.0,673.4 1421.5,681.2 1422.9,684.1 1424.4,679.5 1425.8,667.6 1427.2,651.0 1428.4,632.2 1429.5,613.8 1430.3,598.4 1430.6,587.4 1430.7,576.2 1430.5,565.4 1430.5,555.2 1430.8,546.2 1431.6,538.7 1432.3,535.7 1433.2,533.2 1434.1,530.9 1435.1,528.8 1435.9,526.5 1436.5,523.8 1436.9,519.4 1436.8,514.6 1436.5,509.5 1436.3,504.3 1436.2,499.0 1436.5,493.9 1437.3,488.0 1438.5,481.2 1439.9,474.5 1441.4,468.6 1442.8,464.4 1444.0,462.9 1445.4,465.9 1446.6,473.7 1447.6,484.9 1448.6,497.9 1449.4,511.4 1450.2,523.8 1450.9,539.1 1451.3,555.7 1451.5,572.9 1451.7,590.2 1452.1,607.2 1452.7,623.2 1453.4,636.8 1454.3,650.5 1455.2,663.9 1456.2,676.6 1457.5,688.0 1458.9,697.8 1459.8,702.9 1460.9,708.0 1462.0,712.7 1463.1,716.6 1464.2,719.3 1465.1,720.2 1466.7,715.1 1467.9,701.9 1469.0,683.4 1469.8,662.3 1470.6,641.3 1471.3,623.2 1471.8,608.3 1472.1,593.6 1472.2,579.0 1472.5,564.5 1472.9,550.2 1473.8,536.2 1475.0,523.1 1476.5,510.0 1478.2,497.0 1480.0,484.4 1481.9,472.5 1483.8,461.6 1485.2,453.5 1486.7,444.9 1488.3,436.7 1489.8,429.7 1491.2,424.9 1492.5,423.1 1494.2,428.0 1495.6,440.7 1496.9,458.4 1498.0,478.4 1499.0,497.9 1500.0,514.3 1500.7,525.9 1501.2,537.2 1501.7,548.3 1502.2,558.9 1502.8,569.2 1503.7,578.9 1504.6,587.0 1505.6,595.9 1506.7,604.4 1507.9,611.7 1508.9,616.8 1509.9,618.7 1510.9,615.4 1511.9,606.8 1512.7,594.6 1513.5,580.5 1514.2,566.4 1514.9,554.0 1515.5,542.2 1516.0,529.9 1516.4,517.5 1516.9,505.5 1517.6,494.3 1518.6,484.4 1519.5,478.7 1520.5,473.5 1521.5,468.7 1522.6,464.1 1523.8,459.4 1524.9,454.6 1526.0,448.9 1527.2,442.4 1528.4,436.0 1529.6,430.3 1530.7,426.3 1531.8,424.8 1532.8,426.2 1533.8,429.8 1534.8,435.1 1535.7,441.4 1536.5,448.1 1537.3,454.6 1538.2,464.9 1538.9,476.6 1539.4,489.1 1539.9,502.3 1540.4,515.8 1541.0,529.2 1541.9,545.2 1542.9,562.0 1543.9,579.2 1545.0,596.3 1546.1,612.9 1547.2,628.6 1548.1,642.3 1549.0,657.4 1550.0,672.2 1550.9,684.8 1551.8,693.7 1552.7,697.0 1553.7,692.2 1554.8,679.5 1555.8,661.7 1556.8,641.3 1557.6,621.2 1558.4,603.8 1558.8,589.6 1559.0,575.5 1559.1,561.5 1559.3,547.7 1559.8,534.4 1560.9,521.7 1562.3,511.4 1564.1,501.5 1566.1,491.9 1568.2,482.6 1570.3,473.5 1572.1,464.5 1573.5,455.9 1574.9,446.3 1576.3,436.9 1577.6,428.8 1578.9,423.1 1580.1,421.0 1581.1,422.6 1582.1,426.7 1583.1,432.8 1584.0,439.9 1584.9,447.4 1585.8,454.6 1587.0,465.3 1588.0,477.1 1589.0,489.7 1590.0,502.8 1591.0,516.1 1592.0,529.2 1593.1,544.0 1594.2,559.8 1595.4,575.7 1596.6,591.1 1597.9,604.8 1599.5,616.2 1600.5,621.6 1601.5,627.0 1602.7,632.0 1603.8,636.1 1604.8,638.8 1605.7,639.8 1606.9,636.8 1607.9,628.9 1608.8,617.7 1609.5,604.6 1610.1,591.2 1610.6,578.9 1610.8,564.2 1610.6,548.1 1610.3,531.5 1610.0,515.2 1610.0,500.1 1610.6,486.9 1611.3,479.6 1612.3,472.9 1613.4,466.7 1614.5,460.8 1615.7,455.2 1616.9,449.6 1617.9,444.6 1618.9,439.1 1620.0,433.7 1621.1,429.2 1622.1,426.0 1623.1,424.8 1624.3,426.8 1625.4,432.0 1626.5,439.5 1627.5,448.5 1628.4,457.9 1629.3,467.0 1630.4,481.0 1631.3,496.6 1632.1,513.4 1632.8,530.9 1633.5,548.8 1634.3,566.5 1635.2,587.4 1636.0,610.2 1636.8,633.3 1637.8,655.4 1638.9,675.0 1640.5,690.8 1641.4,697.4 1642.5,704.0 1643.6,710.0 1644.7,714.9 1645.8,718.2 1646.7,719.4 1648.0,714.7 1649.0,702.6 1649.8,685.5 1650.4,665.8 1651.0,646.1 1651.7,628.6 1652.3,611.9 1652.6,594.5 1653.0,577.0 1653.4,559.9 1654.2,543.8 1655.4,529.2 1656.7,518.7 1658.3,507.6 1660.1,497.0 1661.9,488.0 1663.5,481.8 1664.8,479.5 1666.0,483.3 1666.8,493.2 1667.4,507.1 1667.9,523.3 1668.5,539.5 1669.1,554.0 1669.9,568.2 1670.6,582.7 1671.3,597.4 1672.0,612.2 1672.9,626.8 1674.0,641.1 1675.2,656.2 1676.7,673.3 1678.2,690.3 1679.8,705.1 1681.3,715.5 1682.7,719.4 1684.1,714.8 1685.5,702.7 1686.8,685.6 1688.1,665.9 1689.2,646.1 1690.2,628.6 1691.0,611.9 1691.4,594.7 1691.7,577.3 1692.1,560.2 1692.8,544.0 1693.9,529.2 1695.1,518.1 1696.5,506.1 1698.1,494.7 1699.7,485.0 1701.2,478.2 1702.6,475.7 1703.8,478.1 1704.9,484.6 1706.0,494.1 1707.0,505.4 1708.0,517.5 1708.9,529.2 1710.3,550.0 1711.6,574.3 1712.8,600.7 1713.9,627.7 1715.1,654.1 1716.3,678.4 1717.5,699.7 1718.7,723.3 1719.9,746.3 1721.1,766.2 1722.3,780.1 1723.3,785.3 1724.1,781.3 1724.9,770.6 1725.6,755.4 1726.3,737.7 1726.9,719.6 1727.5,703.2 1727.9,684.1 1728.1,663.1 1728.2,641.5 1728.4,620.7 1728.9,601.9 1730.0,586.4 1730.8,579.9 1731.8,574.2 1732.9,569.2 1734.0,564.3 1735.1,559.4 1736.2,554.0 1737.5,546.4 1738.8,537.5 1740.2,528.3 1741.5,520.3 1742.7,514.6 1743.7,512.5 1744.7,515.2 1745.4,522.2 1746.0,532.4 1746.5,544.5 1747.0,557.2 1747.5,569.2 1748.2,587.5 1748.8,608.2 1749.3,630.3 1749.8,652.6 1750.4,674.1 1751.2,693.5 1751.9,707.1 1752.6,719.9 1753.4,732.2 1754.3,744.2 1755.2,756.1 1756.2,768.1 1757.3,781.1 1758.6,795.7 1760.0,810.3 1761.3,822.9 1762.6,831.8 1763.6,835.2 1764.6,830.7 1765.3,818.8 1765.9,801.8 1766.4,782.0 1766.9,761.7 1767.3,743.2 1767.6,720.9 1767.6,696.1 1767.4,670.6 1767.4,646.0 1767.7,624.1 1768.6,606.5 1769.2,599.5 1769.7,593.2 1770.4,587.4 1771.2,582.3 1772.3,577.9 1773.6,574.2 1774.5,572.6 1775.6,571.5 1776.7,570.6 1777.9,569.6 1778.9,568.4 1779.8,566.7 1781.2,558.9 1781.9,547.1 1782.0,533.8 1781.8,521.2 1781.7,511.9 1781.8,508.3 1782.1,511.0 1782.4,518.3 1782.6,528.8 1782.9,541.3 1783.2,554.3 1783.5,566.7 1784.0,585.2 1784.7,605.9 1785.3,628.0 1786.0,650.6 1786.6,672.7 1787.2,693.5 1787.6,710.9 1788.0,727.8 1788.3,744.4 1788.7,760.8 1789.1,776.9 1789.7,792.9 1790.3,809.5 1790.8,828.3 1791.5,846.8 1792.3,862.9 1793.3,874.3 1794.7,878.7 1796.1,876.5 1797.8,870.6 1799.7,861.9 1801.5,851.5 1803.2,840.6 1804.6,830.2 1806.0,814.2 1806.7,796.1 1807.2,776.8 1807.4,756.9 1807.8,737.2 1808.4,718.4 1809.3,701.4 1810.4,684.6 1811.5,667.9 1812.6,651.4 1813.7,635.0 1814.6,618.9 1815.2,603.4 1815.7,587.4 1816.1,571.6 1816.6,556.6 1817.3,543.1 1818.3,531.9 1819.0,526.5 1819.9,521.1 1820.8,516.2 1821.7,512.1 1822.5,509.3 1823.3,508.3 1824.5,512.8 1825.4,524.5 1826.2,540.9 1826.9,559.6 1827.6,578.1 1828.3,594.0 1829.0,606.9 1829.6,619.8 1830.2,632.6 1830.7,645.0 1831.3,657.1 1832.0,668.6 1832.6,677.4 1833.2,685.7 1833.8,693.8 1834.5,701.8 1835.1,709.9 1835.7,718.4 1836.4,729.8 1837.1,743.2 1837.7,756.8 1838.4,768.8 1839.0,777.3 1839.5,780.5 1840.0,776.1 1840.4,764.4 1840.8,747.9 1841.1,728.9 1841.4,710.0 1841.9,693.5 1842.4,678.5 1842.8,663.0 1843.3,647.5 1843.8,632.6 1844.6,618.7 1845.7,606.5 1846.6,599.0 1847.6,591.1 1848.7,583.7 1849.9,577.5 1850.9,573.3 1851.9,571.7 1852.6,573.4 1853.2,577.5 1853.9,582.9 1854.5,588.2 1855.0,592.4 1855.6,594.0 1856.2,591.5 1856.7,585.0 1857.1,576.1 1857.6,566.1 1858.3,556.7 1859.3,549.3 1860.2,545.0 1861.2,540.5 1862.4,536.3 1863.5,532.7 1864.6,530.3 1865.6,529.4 1866.8,531.2 1868.0,536.0 1869.0,543.0 1870.0,551.4 1870.9,560.4 1871.8,569.2 1873.0,586.3 1873.9,606.7 1874.6,629.0 1875.2,651.8 1875.9,673.8 1876.7,693.5 1877.4,707.0 1878.2,719.6 1879.0,731.7 1879.8,743.6 1880.7,755.6 1881.7,768.1 1882.8,783.8 1884.0,802.1 1885.3,820.6 1886.6,836.8 1887.9,848.2 1889.2,852.6 1890.5,848.4 1891.9,837.2 1893.2,821.4 1894.5,803.0 1895.7,784.5 1896.6,768.1 1897.3,752.0 1897.9,735.5 1898.2,718.9 1898.5,702.1 1898.7,685.3 1899.1,668.6 1899.4,651.0 1899.5,632.2 1899.6,613.4 1899.8,595.8 1900.4,580.6 1901.6,569.2 1902.3,565.6 1903.0,562.1 1903.9,559.0 1904.7,556.5 1905.4,554.9 1906.1,554.3 1906.9,556.1 1907.5,560.9 1908.0,567.9 1908.3,576.2 1908.7,585.2 1909.1,594.0 1909.8,610.8 1910.5,630.6 1911.1,652.3 1911.7,674.9 1912.3,697.2 1912.8,718.4 1913.2,737.5 1913.6,756.5 1913.9,775.3 1914.3,793.9 1914.7,812.2 1915.3,830.2 1916.0,848.4 1916.7,868.8 1917.5,889.0 1918.4,906.5 1919.3,918.8 1920.3,923.5 1921.3,919.6 1922.4,909.2 1923.5,894.3 1924.7,876.9 1925.7,859.0 1926.5,842.7 1927.2,823.3 1927.7,802.4 1928.1,780.8 1928.3,759.2 1928.6,738.2 1929.0,718.4 1929.3,702.7 1929.5,687.3 1929.7,672.3 1930.0,657.9 1930.5,644.2 1931.4,631.3 1932.4,622.2 1933.5,613.8 1934.8,605.7 1936.2,597.9 1937.6,589.9 1938.9,581.6 1940.3,571.2 1941.9,559.1 1943.4,546.8 1944.9,536.2 1946.3,528.6 1947.6,525.7 1948.6,527.7 1949.5,533.1 1950.4,540.9 1951.2,550.2 1951.9,559.9 1952.6,569.2 1953.4,583.4 1953.9,599.3 1954.3,616.4 1954.6,634.0 1954.8,651.6 1955.1,668.6 1955.4,685.9 1955.7,703.9 1955.9,722.0 1956.1,739.2 1956.2,754.9 1956.3,768.1 1956.3,774.8 1956.2,781.5 1956.0,787.8 1956.0,793.0 1956.0,796.6 1956.3,797.9 1956.8,795.5 1957.5,789.6 1958.4,781.8 1959.3,774.0 1960.3,768.0 1961.3,765.6 1962.4,768.3 1963.7,774.9 1965.1,783.6 1966.4,792.3 1967.6,799.0 1968.7,801.6 1970.0,797.4 1970.9,786.4 1971.7,770.8 1972.3,752.8 1973.0,734.6 1973.7,718.4 1974.6,702.5 1975.4,686.5 1976.2,670.2 1977.0,653.6 1977.9,636.6 1978.7,618.9 1979.7,597.1 1980.7,574.2 1981.8,550.8 1982.8,527.0 1983.9,503.2 1984.9,479.7" fill="none" stroke="#000" stroke-width="5.0" stroke-linejoin="round" stroke-linecap="butt" clip-path="url(#c1)"/>
<polyline points="796.2,277.3 797.7,277.9 799.2,278.4 800.7,278.9 802.1,279.5 803.6,280.1 804.9,281.0 806.2,282.2 807.4,283.6 808.6,285.1 809.7,286.7 810.9,288.3 812.3,289.8 814.2,291.4 816.2,292.9 818.4,294.4 820.6,296.0 822.8,297.7 824.8,299.7 827.0,302.5 829.1,305.6 831.1,309.0 833.1,312.5 835.1,316.0 837.2,319.6 839.6,323.6 842.1,327.7 844.7,331.9 847.2,336.2 849.7,340.4 852.1,344.5 854.3,348.2 856.3,351.9 858.4,355.5 860.4,359.1 862.4,362.9 864.5,366.9 866.9,371.8 869.4,376.9 871.8,382.2 874.3,387.7 876.8,393.3 879.5,399.2 883.0,407.0 886.6,415.6 890.4,424.4 894.2,433.1 898.0,441.4 901.8,448.9 904.6,454.0 907.4,458.8 910.1,463.4 912.9,467.7 915.9,472.0 919.2,476.3 923.0,481.0 927.0,485.8 931.2,490.6 935.5,495.0 939.8,499.1 944.1,502.4 947.4,504.5 950.6,506.1 953.9,507.5 957.2,508.7 960.6,509.9 964.0,511.1 967.6,512.4 971.3,513.6 975.0,514.7 978.7,515.8 982.5,517.1 986.4,518.5 991.1,520.4 996.1,522.5 1001.2,524.7 1006.0,526.9 1010.3,529.1 1013.7,531.0 1015.0,531.9 1016.1,532.7 1017.0,533.5 1017.9,534.3 1018.9,535.2 1020.0,536.2 1022.1,537.9 1024.5,539.8 1027.1,541.8 1029.7,544.0 1032.3,546.2 1034.9,548.6 1037.8,551.6 1040.6,554.9 1043.4,558.3 1046.3,561.8 1049.3,565.3 1052.3,568.5 1055.5,571.6 1058.7,574.8 1062.1,577.8 1065.4,580.8 1068.8,583.5 1072.2,585.9 1075.0,587.8 1077.8,589.5 1080.6,591.1 1083.5,592.5 1086.4,593.7 1089.6,594.6 1093.5,595.4 1097.6,596.1 1101.9,596.4 1106.3,596.4 1110.5,595.8 1114.5,594.6 1119.0,592.2 1123.5,588.7 1127.9,584.5 1132.0,580.0 1135.9,575.4 1139.3,571.0 1142.0,567.3 1144.5,563.4 1146.7,559.4 1148.7,555.5 1150.4,551.9 1151.8,548.6 1152.4,546.8 1152.8,545.3 1153.0,543.8 1153.3,542.3 1153.7,540.7 1154.3,538.7 1156.5,533.6 1159.5,527.5 1163.1,520.6 1166.9,513.3 1170.7,506.0 1174.2,498.9 1177.6,491.5 1181.1,483.9 1184.5,476.2 1187.8,468.6 1191.0,461.2 1194.0,454.2 1196.2,448.8 1198.2,443.7 1200.1,438.7 1202.1,433.8 1204.2,429.0 1206.5,424.3 1209.0,419.4 1211.6,414.3 1214.4,409.2 1217.3,404.6 1220.5,400.8 1223.9,398.2 1227.0,397.0 1230.3,396.3 1233.8,396.2 1237.3,396.5 1240.7,397.2 1243.8,398.2 1246.7,399.6 1249.4,401.5 1252.0,403.8 1254.4,406.3 1256.7,409.1 1258.7,411.9 1260.6,415.1 1262.0,418.6 1263.3,422.3 1264.5,426.1 1265.8,430.1 1267.5,434.3 1270.3,440.3 1273.5,446.8 1276.9,453.5 1280.5,460.4 1284.0,467.3 1287.3,474.0 1290.3,480.3 1293.2,486.6 1296.1,492.8 1299.0,499.0 1301.9,505.2 1304.8,511.3 1307.7,517.3 1310.6,523.4 1313.6,529.4 1316.5,535.3 1319.4,540.9 1322.2,546.1 1324.3,549.8 1326.2,553.4 1328.1,556.7 1330.1,560.0 1332.2,563.0 1334.6,566.0 1337.2,568.9 1339.9,571.7 1342.7,574.4 1345.7,576.9 1348.8,579.1 1352.0,581.0 1355.2,582.5 1358.6,583.8 1362.1,584.8 1365.5,585.5 1368.8,585.9 1371.9,585.9 1374.1,585.5 1376.1,584.9 1378.0,584.0 1380.0,583.0 1382.0,581.9 1384.3,581.0 1387.9,579.8 1392.0,578.6 1396.2,577.4 1400.6,576.2 1405.0,574.9 1409.2,573.5 1413.4,572.0 1417.5,570.3 1421.6,568.6 1425.7,566.9 1429.9,565.2 1434.0,563.5 1438.1,561.8 1442.3,560.2 1446.4,558.5 1450.6,556.9 1454.7,555.2 1458.9,553.6 1463.0,551.9 1467.2,550.3 1471.3,548.6 1475.4,547.0 1479.6,545.3 1483.8,543.7 1488.1,542.0 1492.5,540.2 1497.0,538.5 1501.4,536.7 1505.7,535.1 1510.0,533.7 1513.8,532.5 1517.4,531.3 1521.1,530.3 1524.7,529.3 1528.4,528.5 1532.3,527.9 1536.9,527.4 1541.9,527.1 1546.9,526.9 1551.8,527.0 1556.1,527.3 1559.7,527.9 1561.2,528.4 1562.5,529.1 1563.6,529.8 1564.7,530.5 1565.8,531.2 1567.1,531.7 1569.0,532.1 1571.0,532.2 1573.1,532.3 1575.2,532.3 1577.4,532.5 1579.6,532.9 1582.1,533.6 1584.6,534.6 1587.1,535.7 1589.6,536.9 1592.1,538.0 1594.5,539.1 1596.6,539.9 1598.8,540.6 1600.8,541.3 1602.9,542.1 1604.9,543.0 1606.9,544.1 1609.0,545.6 1611.1,547.5 1613.1,549.4 1615.1,551.5 1617.1,553.5 1619.3,555.3 1621.7,557.0 1624.2,558.7 1626.7,560.3 1629.2,561.9 1631.8,563.5 1634.3,565.2 1636.8,567.0 1639.3,568.8 1641.8,570.7 1644.3,572.5 1646.7,574.5 1649.2,576.4 1651.7,578.4 1654.2,580.5 1656.7,582.6 1659.1,584.7 1661.6,586.8 1664.1,588.9 1666.6,590.9 1669.0,593.0 1671.4,595.0 1673.9,597.0 1676.4,599.1 1679.0,601.3 1682.2,604.0 1685.4,606.9 1688.8,609.8 1692.2,612.8 1695.6,615.8 1698.9,618.7 1702.2,621.6 1705.5,624.5 1708.8,627.5 1712.1,630.4 1715.4,633.3 1718.8,636.1 1722.4,639.0 1726.1,641.8 1729.8,644.7 1733.5,647.4 1736.9,650.1 1740.0,652.5 1741.8,654.1 1743.5,655.6 1745.0,657.1 1746.5,658.5 1748.1,659.9 1749.9,661.2 1752.2,662.7 1754.6,664.1 1757.2,665.6 1759.8,666.8 1762.4,667.9 1764.9,668.6 1767.0,668.9 1769.2,668.8 1771.3,668.6 1773.4,668.4 1775.4,668.3 1777.3,668.6 1778.9,669.3 1780.4,670.3 1781.8,671.4 1783.2,672.5 1784.6,673.3 1786.0,673.6 1787.4,673.3 1788.8,672.5 1790.1,671.5 1791.5,670.3 1793.0,669.3 1794.7,668.6 1797.3,668.3 1800.4,668.3 1803.7,668.6 1806.9,668.9 1809.8,669.0 1812.1,668.6 1813.1,668.1 1813.9,667.5 1814.5,666.8 1815.2,666.1 1816.0,665.4 1817.1,664.9 1820.8,664.2 1825.9,663.7 1831.7,663.6 1837.5,663.8 1842.8,664.2 1846.9,664.9 1848.5,665.4 1849.8,666.1 1851.0,666.8 1852.1,667.6 1853.2,668.2 1854.4,668.6 1855.6,668.7 1856.9,668.6 1858.2,668.4 1859.4,668.3 1860.6,668.3 1861.8,668.6 1863.1,669.5 1864.3,670.9 1865.4,672.6 1866.6,674.3 1867.8,676.0 1869.3,677.3 1871.2,678.4 1873.3,679.2 1875.5,679.9 1877.7,680.5 1879.8,681.3 1881.7,682.3 1883.1,683.4 1884.3,684.6 1885.4,685.9 1886.6,687.2 1887.8,688.6 1889.2,689.8 1891.4,691.4 1893.8,693.1 1896.4,694.8 1899.1,696.4 1901.7,697.6 1904.1,698.5 1905.8,698.9 1907.5,699.1 1909.2,699.1 1910.8,699.0 1912.4,698.8 1914.0,698.5 1915.7,698.0 1917.3,697.4 1918.9,696.7 1920.5,695.8 1922.2,694.7 1924.0,693.5 1927.1,691.2 1930.6,688.4 1934.3,685.2 1937.9,681.7 1941.1,678.2 1943.9,674.8 1945.8,671.9 1947.3,669.0 1948.6,666.0 1949.8,663.0 1951.1,659.7 1952.6,656.2 1955.0,650.8 1957.7,644.9 1960.4,638.6 1963.2,632.1 1966.0,625.5 1968.7,618.9 1971.5,611.9 1974.2,604.7 1976.9,597.4 1979.5,590.0 1982.2,582.7 1984.9,575.4" fill="none" stroke="#ff0000" stroke-width="5.6" stroke-linejoin="round" stroke-linecap="butt" clip-path="url(#c1)"/>
<rect x="407" y="141" width="1667" height="833" fill="none" stroke="#000" stroke-width="4" shape-rendering="crispEdges"/>
<text transform="translate(406.20,37.20) scale(0.376,0.4)" font-family="Liberation Sans" font-size="100" fill="#c50f0f" xml:space="preserve">ftp://ftp.ncdc.noaa.gov/pub/data/paleo/climate_forcing/solar_variability/usoskin-cosmic-ray.txt</text>
<text transform="translate(448.79,112.50) scale(0.376,0.4)" font-family="Liberation Sans" font-size="100" fill="#000" xml:space="preserve">Usoskin cosmic rays model</text>
<text transform="translate(1739.66,112.50) scale(0.377,0.38)" font-family="Liberation Serif" font-size="100" fill="#000" xml:space="preserve">19/06/20  05:39:38 fz</text>
<text transform="translate(308.74,148.70) scale(0.376,0.4)" font-family="Liberation Sans" font-size="100" fill="#000" xml:space="preserve">5.0</text>
<text transform="translate(308.74,428.00) scale(0.376,0.4)" font-family="Liberation Sans" font-size="100" fill="#000" xml:space="preserve">4.5</text>
<text transform="translate(308.74,706.90) scale(0.376,0.4)" font-family="Liberation Sans" font-size="100" fill="#000" xml:space="preserve">4.0</text>
<text transform="translate(308.74,986.90) scale(0.376,0.4)" font-family="Liberation Sans" font-size="100" fill="#000" xml:space="preserve">3.5</text>
<text transform="translate(379.11,1032.60) scale(0.376,0.4)" font-family="Liberation Sans" font-size="100" fill="#000" xml:space="preserve">1600</text>
<text transform="translate(767.31,1032.60) scale(0.376,0.4)" font-family="Liberation Sans" font-size="100" fill="#000" xml:space="preserve">1700</text>
<text transform="translate(1154.61,1032.60) scale(0.376,0.4)" font-family="Liberation Sans" font-size="100" fill="#000" xml:space="preserve">1800</text>
<text transform="translate(1545.71,1032.60) scale(0.376,0.4)" font-family="Liberation Sans" font-size="100" fill="#000" xml:space="preserve">1900</text>
<text transform="translate(1932.78,1032.60) scale(0.376,0.4)" font-family="Liberation Sans" font-size="100" fill="#000" xml:space="preserve">2000</text>
<text transform="translate(1154.00,1102.50) scale(0.376,0.4)" font-family="Liberation Sans" font-size="100" fill="#000" xml:space="preserve">Year CE</text>
<text transform="translate(1568.52,248.50) scale(0.376,0.4)" font-family="Liberation Sans" font-size="100" fill="#ff0000" xml:space="preserve">30-yr low pass filter</text>
<text transform="translate(195.20,823.50) rotate(-90) scale(0.376,0.4)" font-family="Liberation Sans" font-size="100" fill="#000" xml:space="preserve"># Cosmic Rays*10</text>
<text transform="translate(169.80,515.55) rotate(-90) scale(0.376,0.4)" font-family="Liberation Sans" font-size="100" fill="#000" xml:space="preserve">4</text>
<text transform="translate(195.20,480.96) rotate(-90) scale(0.376,0.4)" font-family="Liberation Sans" font-size="100" fill="#000" xml:space="preserve">(counts/hour)</text>
<line x1="511.0" y1="1182" x2="511.0" y2="2016" stroke="#dadada" stroke-width="2" stroke-dasharray="5 3.3" shape-rendering="crispEdges"/>
<line x1="615.0" y1="1182" x2="615.0" y2="2016" stroke="#dadada" stroke-width="2" stroke-dasharray="5 3.3" shape-rendering="crispEdges"/>
<line x1="719.0" y1="1182" x2="719.0" y2="2016" stroke="#dadada" stroke-width="2" stroke-dasharray="5 3.3" shape-rendering="crispEdges"/>
<line x1="824.0" y1="1182" x2="824.0" y2="2016" stroke="#dadada" stroke-width="2" shape-rendering="crispEdges"/>
<line x1="928.0" y1="1182" x2="928.0" y2="2016" stroke="#dadada" stroke-width="2" stroke-dasharray="5 3.3" shape-rendering="crispEdges"/>
<line x1="1032.0" y1="1182" x2="1032.0" y2="2016" stroke="#dadada" stroke-width="2" stroke-dasharray="5 3.3" shape-rendering="crispEdges"/>
<line x1="1136.0" y1="1182" x2="1136.0" y2="2016" stroke="#dadada" stroke-width="2" stroke-dasharray="5 3.3" shape-rendering="crispEdges"/>
<line x1="1244.0" y1="1182" x2="1244.0" y2="2016" stroke="#dadada" stroke-width="2" shape-rendering="crispEdges"/>
<line x1="1349.0" y1="1182" x2="1349.0" y2="2016" stroke="#dadada" stroke-width="2" stroke-dasharray="5 3.3" shape-rendering="crispEdges"/>
<line x1="1453.0" y1="1182" x2="1453.0" y2="2016" stroke="#dadada" stroke-width="2" stroke-dasharray="5 3.3" shape-rendering="crispEdges"/>
<line x1="1557.0" y1="1182" x2="1557.0" y2="2016" stroke="#dadada" stroke-width="2" stroke-dasharray="5 3.3" shape-rendering="crispEdges"/>
<line x1="1661.0" y1="1182" x2="1661.0" y2="2016" stroke="#dadada" stroke-width="2" shape-rendering="crispEdges"/>
<line x1="1765.0" y1="1182" x2="1765.0" y2="2016" stroke="#dadada" stroke-width="2" stroke-dasharray="5 3.3" shape-rendering="crispEdges"/>
<line x1="1869.0" y1="1182" x2="1869.0" y2="2016" stroke="#dadada" stroke-width="2" stroke-dasharray="5 3.3" shape-rendering="crispEdges"/>
<line x1="1974.0" y1="1182" x2="1974.0" y2="2016" stroke="#dadada" stroke-width="2" stroke-dasharray="5 3.3" shape-rendering="crispEdges"/>
<line x1="407" y1="1186.0" x2="2074" y2="1186.0" stroke="#dadada" stroke-width="2" stroke-dasharray="5 3.3" shape-rendering="crispEdges"/>
<line x1="407" y1="1224.0" x2="2074" y2="1224.0" stroke="#dadada" stroke-width="2" stroke-dasharray="5 3.3" shape-rendering="crispEdges"/>
<line x1="407" y1="1261.0" x2="2074" y2="1261.0" stroke="#dadada" stroke-width="2" shape-rendering="crispEdges"/>
<line x1="407" y1="1299.0" x2="2074" y2="1299.0" stroke="#dadada" stroke-width="2" stroke-dasharray="5 3.3" shape-rendering="crispEdges"/>
<line x1="407" y1="1336.0" x2="2074" y2="1336.0" stroke="#dadada" stroke-width="2" stroke-dasharray="5 3.3" shape-rendering="crispEdges"/>
<line x1="407" y1="1374.0" x2="2074" y2="1374.0" stroke="#dadada" stroke-width="2" stroke-dasharray="5 3.3" shape-rendering="crispEdges"/>
<line x1="407" y1="1411.0" x2="2074" y2="1411.0" stroke="#dadada" stroke-width="2" shape-rendering="crispEdges"/>
<line x1="407" y1="1449.0" x2="2074" y2="1449.0" stroke="#dadada" stroke-width="2" stroke-dasharray="5 3.3" shape-rendering="crispEdges"/>
<line x1="407" y1="1486.0" x2="2074" y2="1486.0" stroke="#dadada" stroke-width="2" stroke-dasharray="5 3.3" shape-rendering="crispEdges"/>
<line x1="407" y1="1524.0" x2="2074" y2="1524.0" stroke="#dadada" stroke-width="2" stroke-dasharray="5 3.3" shape-rendering="crispEdges"/>
<line x1="407" y1="1562.0" x2="2074" y2="1562.0" stroke="#dadada" stroke-width="2" shape-rendering="crispEdges"/>
<line x1="407" y1="1603.0" x2="2074" y2="1603.0" stroke="#dadada" stroke-width="2" stroke-dasharray="5 3.3" shape-rendering="crispEdges"/>
<line x1="407" y1="1641.0" x2="2074" y2="1641.0" stroke="#dadada" stroke-width="2" stroke-dasharray="5 3.3" shape-rendering="crispEdges"/>
<line x1="407" y1="1678.0" x2="2074" y2="1678.0" stroke="#dadada" stroke-width="2" stroke-dasharray="5 3.3" shape-rendering="crispEdges"/>
<line x1="407" y1="1716.0" x2="2074" y2="1716.0" stroke="#dadada" stroke-width="2" shape-rendering="crispEdges"/>
<line x1="407" y1="1753.0" x2="2074" y2="1753.0" stroke="#dadada" stroke-width="2" stroke-dasharray="5 3.3" shape-rendering="crispEdges"/>
<line x1="407" y1="1791.0" x2="2074" y2="1791.0" stroke="#dadada" stroke-width="2" stroke-dasharray="5 3.3" shape-rendering="crispEdges"/>
<line x1="407" y1="1828.0" x2="2074" y2="1828.0" stroke="#dadada" stroke-width="2" stroke-dasharray="5 3.3" shape-rendering="crispEdges"/>
<line x1="407" y1="1866.0" x2="2074" y2="1866.0" stroke="#dadada" stroke-width="2" shape-rendering="crispEdges"/>
<line x1="407" y1="1903.0" x2="2074" y2="1903.0" stroke="#dadada" stroke-width="2" stroke-dasharray="5 3.3" shape-rendering="crispEdges"/>
<line x1="407" y1="1941.0" x2="2074" y2="1941.0" stroke="#dadada" stroke-width="2" stroke-dasharray="5 3.3" shape-rendering="crispEdges"/>
<line x1="407" y1="1978.0" x2="2074" y2="1978.0" stroke="#dadada" stroke-width="2" stroke-dasharray="5 3.3" shape-rendering="crispEdges"/>
<line x1="511.0" y1="2016" x2="511.0" y2="1995" stroke="#000" stroke-width="4" shape-rendering="crispEdges"/>
<line x1="511.0" y1="1182" x2="511.0" y2="1203" stroke="#000" stroke-width="4" shape-rendering="crispEdges"/>
<line x1="615.0" y1="2016" x2="615.0" y2="1995" stroke="#000" stroke-width="4" shape-rendering="crispEdges"/>
<line x1="615.0" y1="1182" x2="615.0" y2="1203" stroke="#000" stroke-width="4" shape-rendering="crispEdges"/>
<line x1="719.0" y1="2016" x2="719.0" y2="1995" stroke="#000" stroke-width="4" shape-rendering="crispEdges"/>
<line x1="719.0" y1="1182" x2="719.0" y2="1203" stroke="#000" stroke-width="4" shape-rendering="crispEdges"/>
<line x1="823.5" y1="2016" x2="823.5" y2="1974" stroke="#000" stroke-width="3" shape-rendering="crispEdges"/>
<line x1="823.5" y1="1182" x2="823.5" y2="1224" stroke="#000" stroke-width="3" shape-rendering="crispEdges"/>
<line x1="928.0" y1="2016" x2="928.0" y2="1995" stroke="#000" stroke-width="4" shape-rendering="crispEdges"/>
<line x1="928.0" y1="1182" x2="928.0" y2="1203" stroke="#000" stroke-width="4" shape-rendering="crispEdges"/>
<line x1="1032.0" y1="2016" x2="1032.0" y2="1995" stroke="#000" stroke-width="4" shape-rendering="crispEdges"/>
<line x1="1032.0" y1="1182" x2="1032.0" y2="1203" stroke="#000" stroke-width="4" shape-rendering="crispEdges"/>
<line x1="1136.0" y1="2016" x2="1136.0" y2="1995" stroke="#000" stroke-width="4" shape-rendering="crispEdges"/>
<line x1="1136.0" y1="1182" x2="1136.0" y2="1203" stroke="#000" stroke-width="4" shape-rendering="crispEdges"/>
<line x1="1244.5" y1="2016" x2="1244.5" y2="1974" stroke="#000" stroke-width="3" shape-rendering="crispEdges"/>
<line x1="1244.5" y1="1182" x2="1244.5" y2="1224" stroke="#000" stroke-width="3" shape-rendering="crispEdges"/>
<line x1="1349.0" y1="2016" x2="1349.0" y2="1995" stroke="#000" stroke-width="4" shape-rendering="crispEdges"/>
<line x1="1349.0" y1="1182" x2="1349.0" y2="1203" stroke="#000" stroke-width="4" shape-rendering="crispEdges"/>
<line x1="1453.0" y1="2016" x2="1453.0" y2="1995" stroke="#000" stroke-width="4" shape-rendering="crispEdges"/>
<line x1="1453.0" y1="1182" x2="1453.0" y2="1203" stroke="#000" stroke-width="4" shape-rendering="crispEdges"/>
<line x1="1557.0" y1="2016" x2="1557.0" y2="1995" stroke="#000" stroke-width="4" shape-rendering="crispEdges"/>
<line x1="1557.0" y1="1182" x2="1557.0" y2="1203" stroke="#000" stroke-width="4" shape-rendering="crispEdges"/>
<line x1="1660.5" y1="2016" x2="1660.5" y2="1974" stroke="#000" stroke-width="3" shape-rendering="crispEdges"/>
<line x1="1660.5" y1="1182" x2="1660.5" y2="1224" stroke="#000" stroke-width="3" shape-rendering="crispEdges"/>
<line x1="1765.0" y1="2016" x2="1765.0" y2="1995" stroke="#000" stroke-width="4" shape-rendering="crispEdges"/>
<line x1="1765.0" y1="1182" x2="1765.0" y2="1203" stroke="#000" stroke-width="4" shape-rendering="crispEdges"/>
<line x1="1869.0" y1="2016" x2="1869.0" y2="1995" stroke="#000" stroke-width="4" shape-rendering="crispEdges"/>
<line x1="1869.0" y1="1182" x2="1869.0" y2="1203" stroke="#000" stroke-width="4" shape-rendering="crispEdges"/>
<line x1="1974.0" y1="2016" x2="1974.0" y2="1995" stroke="#000" stroke-width="4" shape-rendering="crispEdges"/>
<line x1="1974.0" y1="1182" x2="1974.0" y2="1203" stroke="#000" stroke-width="4" shape-rendering="crispEdges"/>
<line x1="407" y1="1186.0" x2="428" y2="1186.0" stroke="#000" stroke-width="4" shape-rendering="crispEdges"/>
<line x1="2074" y1="1186.0" x2="2053" y2="1186.0" stroke="#000" stroke-width="4" shape-rendering="crispEdges"/>
<line x1="407" y1="1224.0" x2="428" y2="1224.0" stroke="#000" stroke-width="4" shape-rendering="crispEdges"/>
<line x1="2074" y1="1224.0" x2="2053" y2="1224.0" stroke="#000" stroke-width="4" shape-rendering="crispEdges"/>
<line x1="407" y1="1261.5" x2="449" y2="1261.5" stroke="#000" stroke-width="3" shape-rendering="crispEdges"/>
<line x1="2074" y1="1261.5" x2="2032" y2="1261.5" stroke="#000" stroke-width="3" shape-rendering="crispEdges"/>
<line x1="407" y1="1299.0" x2="428" y2="1299.0" stroke="#000" stroke-width="4" shape-rendering="crispEdges"/>
<line x1="2074" y1="1299.0" x2="2053" y2="1299.0" stroke="#000" stroke-width="4" shape-rendering="crispEdges"/>
<line x1="407" y1="1336.0" x2="428" y2="1336.0" stroke="#000" stroke-width="4" shape-rendering="crispEdges"/>
<line x1="2074" y1="1336.0" x2="2053" y2="1336.0" stroke="#000" stroke-width="4" shape-rendering="crispEdges"/>
<line x1="407" y1="1374.0" x2="428" y2="1374.0" stroke="#000" stroke-width="4" shape-rendering="crispEdges"/>
<line x1="2074" y1="1374.0" x2="2053" y2="1374.0" stroke="#000" stroke-width="4" shape-rendering="crispEdges"/>
<line x1="407" y1="1411.5" x2="449" y2="1411.5" stroke="#000" stroke-width="3" shape-rendering="crispEdges"/>
<line x1="2074" y1="1411.5" x2="2032" y2="1411.5" stroke="#000" stroke-width="3" shape-rendering="crispEdges"/>
<line x1="407" y1="1449.0" x2="428" y2="1449.0" stroke="#000" stroke-width="4" shape-rendering="crispEdges"/>
<line x1="2074" y1="1449.0" x2="2053" y2="1449.0" stroke="#000" stroke-width="4" shape-rendering="crispEdges"/>
<line x1="407" y1="1486.0" x2="428" y2="1486.0" stroke="#000" stroke-width="4" shape-rendering="crispEdges"/>
<line x1="2074" y1="1486.0" x2="2053" y2="1486.0" stroke="#000" stroke-width="4" shape-rendering="crispEdges"/>
<line x1="407" y1="1524.0" x2="428" y2="1524.0" stroke="#000" stroke-width="4" shape-rendering="crispEdges"/>
<line x1="2074" y1="1524.0" x2="2053" y2="1524.0" stroke="#000" stroke-width="4" shape-rendering="crispEdges"/>
<line x1="407" y1="1561.5" x2="449" y2="1561.5" stroke="#000" stroke-width="3" shape-rendering="crispEdges"/>
<line x1="2074" y1="1561.5" x2="2032" y2="1561.5" stroke="#000" stroke-width="3" shape-rendering="crispEdges"/>
<line x1="407" y1="1603.0" x2="428" y2="1603.0" stroke="#000" stroke-width="4" shape-rendering="crispEdges"/>
<line x1="2074" y1="1603.0" x2="2053" y2="1603.0" stroke="#000" stroke-width="4" shape-rendering="crispEdges"/>
<line x1="407" y1="1641.0" x2="428" y2="1641.0" stroke="#000" stroke-width="4" shape-rendering="crispEdges"/>
<line x1="2074" y1="1641.0" x2="2053" y2="1641.0" stroke="#000" stroke-width="4" shape-rendering="crispEdges"/>
<line x1="407" y1="1678.0" x2="428" y2="1678.0" stroke="#000" stroke-width="4" shape-rendering="crispEdges"/>
<line x1="2074" y1="1678.0" x2="2053" y2="1678.0" stroke="#000" stroke-width="4" shape-rendering="crispEdges"/>
<line x1="407" y1="1715.5" x2="449" y2="1715.5" stroke="#000" stroke-width="3" shape-rendering="crispEdges"/>
<line x1="2074" y1="1715.5" x2="2032" y2="1715.5" stroke="#000" stroke-width="3" shape-rendering="crispEdges"/>
<line x1="407" y1="1753.0" x2="428" y2="1753.0" stroke="#000" stroke-width="4" shape-rendering="crispEdges"/>
<line x1="2074" y1="1753.0" x2="2053" y2="1753.0" stroke="#000" stroke-width="4" shape-rendering="crispEdges"/>
<line x1="407" y1="1791.0" x2="428" y2="1791.0" stroke="#000" stroke-width="4" shape-rendering="crispEdges"/>
<line x1="2074" y1="1791.0" x2="2053" y2="1791.0" stroke="#000" stroke-width="4" shape-rendering="crispEdges"/>
<line x1="407" y1="1828.0" x2="428" y2="1828.0" stroke="#000" stroke-width="4" shape-rendering="crispEdges"/>
<line x1="2074" y1="1828.0" x2="2053" y2="1828.0" stroke="#000" stroke-width="4" shape-rendering="crispEdges"/>
<line x1="407" y1="1865.5" x2="449" y2="1865.5" stroke="#000" stroke-width="3" shape-rendering="crispEdges"/>
<line x1="2074" y1="1865.5" x2="2032" y2="1865.5" stroke="#000" stroke-width="3" shape-rendering="crispEdges"/>
<line x1="407" y1="1903.0" x2="428" y2="1903.0" stroke="#000" stroke-width="4" shape-rendering="crispEdges"/>
<line x1="2074" y1="1903.0" x2="2053" y2="1903.0" stroke="#000" stroke-width="4" shape-rendering="crispEdges"/>
<line x1="407" y1="1941.0" x2="428" y2="1941.0" stroke="#000" stroke-width="4" shape-rendering="crispEdges"/>
<line x1="2074" y1="1941.0" x2="2053" y2="1941.0" stroke="#000" stroke-width="4" shape-rendering="crispEdges"/>
<line x1="407" y1="1978.0" x2="428" y2="1978.0" stroke="#000" stroke-width="4" shape-rendering="crispEdges"/>
<line x1="2074" y1="1978.0" x2="2053" y2="1978.0" stroke="#000" stroke-width="4" shape-rendering="crispEdges"/>
<polyline points="450.0,2016.5 472.0,2016.5 473.0,2011.0 475.0,2011.0 476.0,2016.5 485.0,2016.5 486.0,2011.0 491.0,2011.0 492.0,2016.5 505.0,2016.5 506.0,2011.0 509.0,2011.0 510.0,2016.5 513.0,2016.5 515.0,1986.5 516.5,2016.5 518.6,2010.0 528.0,2010.0 530.0,2016.5 534.0,2016.5 535.0,2011.0 537.5,2011.0 538.5,2016.5 540.6,2013.0 548.5,2010.0 549.0,1978.6 551.6,2010.0 556.3,2003.7 562.6,2003.7 566.5,2011.6 568.9,2013.0 572.0,1999.0 574.0,1899.0 575.2,1989.6 576.8,1978.6 582.3,1961.3 582.3,1989.6 587.8,2006.9 594.8,1999.0 594.8,1967.6 598.8,1961.3 600.3,1986.5 604.3,2002.2 611.3,1983.3 611.0,1100.0 612.3,1100.0 612.3,1779.0 615.9,1780.8 617.1,1810.9 618.3,1841.8 619.1,1897.2 619.5,1923.2 621.6,1887.4 623.6,1861.4 624.0,1100.0 624.3,1100.0 624.3,1860.0" fill="none" stroke="#ff0000" stroke-width="3.7" stroke-linejoin="round" stroke-linecap="butt" clip-path="url(#c2)"/>
<polyline points="630.5,1678.0 632.0,1532.0 633.0,1678.0 635.0,1590.0 636.0,1678.0 638.0,1575.0 639.5,1662.0 640.5,1561.0 641.5,1700.0 643.2,1794.0 644.3,1843.5 643.9,1882.5 648.8,1883.0 651.3,1782.4 653.7,1887.4 655.3,1907.7 657.0,1946.8 658.5,1970.7 660.0,1997.5 666.3,2003.7 674.2,1995.9 678.9,1981.7 684.4,1988.0 686.8,2003.7 691.5,2007.7 698.1,2007.0 707.8,1998.5 712.6,1981.6 716.3,1969.5 721.1,1976.7 727.2,2003.3 735.6,2011.8 752.6,2011.8 758.6,2003.3 765.9,1990.0 774.3,1994.9 779.2,2003.3 790.0,2011.8 805.8,2011.8 815.4,2005.8 826.3,1991.2 832.4,1964.6 840.8,1940.5 856.5,1956.9 873.5,1956.9 880.7,1976.7 898.9,2007.0 912.2,2011.8 977.5,2011.8 989.6,2003.3 1004.1,1990.0 1018.6,1948.9 1031.9,1936.8 1047.6,1973.1 1064.5,1990.0 1082.7,1998.7 1262.5,1998.7 1286.7,1994.8 1323.0,1994.8 1362.3,1985.1 1392.5,1974.5 1434.8,1939.7 1453.0,1900.4 1478.7,1850.6 1504.4,1716.0 1523.8,1641.5 1573.6,1673.4 1632.3,1843.9 1690.4,1914.6 1762.9,1940.0 1835.5,1952.7 1918.9,1949.0 2011.4,1936.3" fill="none" stroke="#ff0000" stroke-width="3.7" stroke-linejoin="round" stroke-linecap="butt" clip-path="url(#c2)"/>
<rect x="407" y="1182" width="1667" height="834" fill="none" stroke="#000" stroke-width="4" shape-rendering="crispEdges"/>
<text transform="translate(448.39,1153.80) scale(0.376,0.4)" font-family="Liberation Sans" font-size="100" fill="#000" xml:space="preserve">Usoskin cosmic rays</text>
<text transform="translate(308.74,1273.80) scale(0.376,0.4)" font-family="Liberation Sans" font-size="100" fill="#000" xml:space="preserve">1.0</text>
<text transform="translate(308.74,1424.40) scale(0.376,0.4)" font-family="Liberation Sans" font-size="100" fill="#000" xml:space="preserve">0.8</text>
<text transform="translate(308.74,1574.00) scale(0.376,0.4)" font-family="Liberation Sans" font-size="100" fill="#000" xml:space="preserve">0.6</text>
<text transform="translate(308.36,1728.70) scale(0.376,0.4)" font-family="Liberation Sans" font-size="100" fill="#000" xml:space="preserve">0.4</text>
<text transform="translate(309.12,1878.50) scale(0.376,0.4)" font-family="Liberation Sans" font-size="100" fill="#000" xml:space="preserve">0.2</text>
<text transform="translate(308.74,2027.00) scale(0.376,0.4)" font-family="Liberation Sans" font-size="100" fill="#000" xml:space="preserve">0.0</text>
<text transform="translate(402.47,2073.90) scale(0.376,0.4)" font-family="Liberation Sans" font-size="100" fill="#000" xml:space="preserve">0</text>
<text transform="translate(808.24,2073.90) scale(0.376,0.4)" font-family="Liberation Sans" font-size="100" fill="#000" xml:space="preserve">20</text>
<text transform="translate(1230.11,2073.90) scale(0.376,0.4)" font-family="Liberation Sans" font-size="100" fill="#000" xml:space="preserve">40</text>
<text transform="translate(1646.34,2073.90) scale(0.376,0.4)" font-family="Liberation Sans" font-size="100" fill="#000" xml:space="preserve">60</text>
<text transform="translate(2061.93,2073.90) scale(0.376,0.4)" font-family="Liberation Sans" font-size="100" fill="#000" xml:space="preserve">80</text>
<text transform="translate(1102.23,2144.70) scale(0.376,0.4)" font-family="Liberation Sans" font-size="100" fill="#000" xml:space="preserve">Period (yr)</text>
<text transform="translate(194.90,1701.01) rotate(-90) scale(0.376,0.4)" font-family="Liberation Sans" font-size="100" fill="#000" xml:space="preserve">MEM Spectrum</text>
<text transform="translate(635.78,1266.00) scale(0.376,0.4)" font-family="Liberation Sans" font-size="100" fill="#000" xml:space="preserve">10.6</text>
<text transform="translate(549.56,1890.90) scale(0.376,0.4)" font-family="Liberation Sans" font-size="100" fill="#000" xml:space="preserve">8.1</text>
<text transform="translate(821.13,1928.40) scale(0.376,0.4)" font-family="Liberation Sans" font-size="100" fill="#000" xml:space="preserve">21</text>
<text transform="translate(1010.63,1912.20) scale(0.376,0.4)" font-family="Liberation Sans" font-size="100" fill="#000" xml:space="preserve">30</text>
<text transform="translate(1489.73,1619.80) scale(0.376,0.4)" font-family="Liberation Sans" font-size="100" fill="#000" xml:space="preserve">53.6</text>
<line x1="511.0" y1="2224" x2="511.0" y2="2849" stroke="#dadada" stroke-width="2" stroke-dasharray="5 3.3" shape-rendering="crispEdges"/>
<line x1="615.0" y1="2224" x2="615.0" y2="2849" stroke="#dadada" stroke-width="2" stroke-dasharray="5 3.3" shape-rendering="crispEdges"/>
<line x1="719.0" y1="2224" x2="719.0" y2="2849" stroke="#dadada" stroke-width="2" stroke-dasharray="5 3.3" shape-rendering="crispEdges"/>
<line x1="824.0" y1="2224" x2="824.0" y2="2849" stroke="#dadada" stroke-width="2" shape-rendering="crispEdges"/>
<line x1="928.0" y1="2224" x2="928.0" y2="2849" stroke="#dadada" stroke-width="2" stroke-dasharray="5 3.3" shape-rendering="crispEdges"/>
<line x1="1032.0" y1="2224" x2="1032.0" y2="2849" stroke="#dadada" stroke-width="2" stroke-dasharray="5 3.3" shape-rendering="crispEdges"/>
<line x1="1136.0" y1="2224" x2="1136.0" y2="2849" stroke="#dadada" stroke-width="2" stroke-dasharray="5 3.3" shape-rendering="crispEdges"/>
<line x1="1244.0" y1="2224" x2="1244.0" y2="2849" stroke="#dadada" stroke-width="2" shape-rendering="crispEdges"/>
<line x1="1349.0" y1="2224" x2="1349.0" y2="2849" stroke="#dadada" stroke-width="2" stroke-dasharray="5 3.3" shape-rendering="crispEdges"/>
<line x1="1453.0" y1="2224" x2="1453.0" y2="2849" stroke="#dadada" stroke-width="2" stroke-dasharray="5 3.3" shape-rendering="crispEdges"/>
<line x1="1557.0" y1="2224" x2="1557.0" y2="2849" stroke="#dadada" stroke-width="2" stroke-dasharray="5 3.3" shape-rendering="crispEdges"/>
<line x1="1661.0" y1="2224" x2="1661.0" y2="2849" stroke="#dadada" stroke-width="2" shape-rendering="crispEdges"/>
<line x1="1765.0" y1="2224" x2="1765.0" y2="2849" stroke="#dadada" stroke-width="2" stroke-dasharray="5 3.3" shape-rendering="crispEdges"/>
<line x1="1869.0" y1="2224" x2="1869.0" y2="2849" stroke="#dadada" stroke-width="2" stroke-dasharray="5 3.3" shape-rendering="crispEdges"/>
<line x1="1973.0" y1="2224" x2="1973.0" y2="2849" stroke="#dadada" stroke-width="2" stroke-dasharray="5 3.3" shape-rendering="crispEdges"/>
<line x1="407" y1="2241.0" x2="2074" y2="2241.0" stroke="#dadada" stroke-width="2" stroke-dasharray="5 3.3" shape-rendering="crispEdges"/>
<line x1="407" y1="2274.0" x2="2074" y2="2274.0" stroke="#dadada" stroke-width="2" stroke-dasharray="5 3.3" shape-rendering="crispEdges"/>
<line x1="407" y1="2307.0" x2="2074" y2="2307.0" stroke="#dadada" stroke-width="2" shape-rendering="crispEdges"/>
<line x1="407" y1="2344.0" x2="2074" y2="2344.0" stroke="#dadada" stroke-width="2" stroke-dasharray="5 3.3" shape-rendering="crispEdges"/>
<line x1="407" y1="2378.0" x2="2074" y2="2378.0" stroke="#dadada" stroke-width="2" stroke-dasharray="5 3.3" shape-rendering="crispEdges"/>
<line x1="407" y1="2411.0" x2="2074" y2="2411.0" stroke="#dadada" stroke-width="2" stroke-dasharray="5 3.3" shape-rendering="crispEdges"/>
<line x1="407" y1="2445.0" x2="2074" y2="2445.0" stroke="#dadada" stroke-width="2" shape-rendering="crispEdges"/>
<line x1="407" y1="2478.0" x2="2074" y2="2478.0" stroke="#dadada" stroke-width="2" stroke-dasharray="5 3.3" shape-rendering="crispEdges"/>
<line x1="407" y1="2512.0" x2="2074" y2="2512.0" stroke="#dadada" stroke-width="2" stroke-dasharray="5 3.3" shape-rendering="crispEdges"/>
<line x1="407" y1="2544.0" x2="2074" y2="2544.0" stroke="#dadada" stroke-width="2" stroke-dasharray="5 3.3" shape-rendering="crispEdges"/>
<line x1="407" y1="2578.0" x2="2074" y2="2578.0" stroke="#dadada" stroke-width="2" shape-rendering="crispEdges"/>
<line x1="407" y1="2615.0" x2="2074" y2="2615.0" stroke="#dadada" stroke-width="2" stroke-dasharray="5 3.3" shape-rendering="crispEdges"/>
<line x1="407" y1="2648.0" x2="2074" y2="2648.0" stroke="#dadada" stroke-width="2" stroke-dasharray="5 3.3" shape-rendering="crispEdges"/>
<line x1="407" y1="2682.0" x2="2074" y2="2682.0" stroke="#dadada" stroke-width="2" stroke-dasharray="5 3.3" shape-rendering="crispEdges"/>
<line x1="407" y1="2716.0" x2="2074" y2="2716.0" stroke="#dadada" stroke-width="2" shape-rendering="crispEdges"/>
<line x1="407" y1="2749.0" x2="2074" y2="2749.0" stroke="#dadada" stroke-width="2" stroke-dasharray="5 3.3" shape-rendering="crispEdges"/>
<line x1="407" y1="2782.0" x2="2074" y2="2782.0" stroke="#dadada" stroke-width="2" stroke-dasharray="5 3.3" shape-rendering="crispEdges"/>
<line x1="407" y1="2816.0" x2="2074" y2="2816.0" stroke="#dadada" stroke-width="2" stroke-dasharray="5 3.3" shape-rendering="crispEdges"/>
<line x1="511.0" y1="2849" x2="511.0" y2="2828" stroke="#000" stroke-width="4" shape-rendering="crispEdges"/>
<line x1="511.0" y1="2224" x2="511.0" y2="2245" stroke="#000" stroke-width="4" shape-rendering="crispEdges"/>
<line x1="615.0" y1="2849" x2="615.0" y2="2828" stroke="#000" stroke-width="4" shape-rendering="crispEdges"/>
<line x1="615.0" y1="2224" x2="615.0" y2="2245" stroke="#000" stroke-width="4" shape-rendering="crispEdges"/>
<line x1="719.0" y1="2849" x2="719.0" y2="2828" stroke="#000" stroke-width="4" shape-rendering="crispEdges"/>
<line x1="719.0" y1="2224" x2="719.0" y2="2245" stroke="#000" stroke-width="4" shape-rendering="crispEdges"/>
<line x1="823.5" y1="2849" x2="823.5" y2="2807" stroke="#000" stroke-width="3" shape-rendering="crispEdges"/>
<line x1="823.5" y1="2224" x2="823.5" y2="2266" stroke="#000" stroke-width="3" shape-rendering="crispEdges"/>
<line x1="928.0" y1="2849" x2="928.0" y2="2828" stroke="#000" stroke-width="4" shape-rendering="crispEdges"/>
<line x1="928.0" y1="2224" x2="928.0" y2="2245" stroke="#000" stroke-width="4" shape-rendering="crispEdges"/>
<line x1="1032.0" y1="2849" x2="1032.0" y2="2828" stroke="#000" stroke-width="4" shape-rendering="crispEdges"/>
<line x1="1032.0" y1="2224" x2="1032.0" y2="2245" stroke="#000" stroke-width="4" shape-rendering="crispEdges"/>
<line x1="1136.0" y1="2849" x2="1136.0" y2="2828" stroke="#000" stroke-width="4" shape-rendering="crispEdges"/>
<line x1="1136.0" y1="2224" x2="1136.0" y2="2245" stroke="#000" stroke-width="4" shape-rendering="crispEdges"/>
<line x1="1244.5" y1="2849" x2="1244.5" y2="2807" stroke="#000" stroke-width="3" shape-rendering="crispEdges"/>
<line x1="1244.5" y1="2224" x2="1244.5" y2="2266" stroke="#000" stroke-width="3" shape-rendering="crispEdges"/>
<line x1="1349.0" y1="2849" x2="1349.0" y2="2828" stroke="#000" stroke-width="4" shape-rendering="crispEdges"/>
<line x1="1349.0" y1="2224" x2="1349.0" y2="2245" stroke="#000" stroke-width="4" shape-rendering="crispEdges"/>
<line x1="1453.0" y1="2849" x2="1453.0" y2="2828" stroke="#000" stroke-width="4" shape-rendering="crispEdges"/>
<line x1="1453.0" y1="2224" x2="1453.0" y2="2245" stroke="#000" stroke-width="4" shape-rendering="crispEdges"/>
<line x1="1557.0" y1="2849" x2="1557.0" y2="2828" stroke="#000" stroke-width="4" shape-rendering="crispEdges"/>
<line x1="1557.0" y1="2224" x2="1557.0" y2="2245" stroke="#000" stroke-width="4" shape-rendering="crispEdges"/>
<line x1="1661.5" y1="2849" x2="1661.5" y2="2807" stroke="#000" stroke-width="3" shape-rendering="crispEdges"/>
<line x1="1661.5" y1="2224" x2="1661.5" y2="2266" stroke="#000" stroke-width="3" shape-rendering="crispEdges"/>
<line x1="1765.0" y1="2849" x2="1765.0" y2="2828" stroke="#000" stroke-width="4" shape-rendering="crispEdges"/>
<line x1="1765.0" y1="2224" x2="1765.0" y2="2245" stroke="#000" stroke-width="4" shape-rendering="crispEdges"/>
<line x1="1869.0" y1="2849" x2="1869.0" y2="2828" stroke="#000" stroke-width="4" shape-rendering="crispEdges"/>
<line x1="1869.0" y1="2224" x2="1869.0" y2="2245" stroke="#000" stroke-width="4" shape-rendering="crispEdges"/>
<line x1="1973.0" y1="2849" x2="1973.0" y2="2828" stroke="#000" stroke-width="4" shape-rendering="crispEdges"/>
<line x1="1973.0" y1="2224" x2="1973.0" y2="2245" stroke="#000" stroke-width="4" shape-rendering="crispEdges"/>
<line x1="407" y1="2241.0" x2="428" y2="2241.0" stroke="#000" stroke-width="4" shape-rendering="crispEdges"/>
<line x1="2074" y1="2241.0" x2="2053" y2="2241.0" stroke="#000" stroke-width="4" shape-rendering="crispEdges"/>
<line x1="407" y1="2274.0" x2="428" y2="2274.0" stroke="#000" stroke-width="4" shape-rendering="crispEdges"/>
<line x1="2074" y1="2274.0" x2="2053" y2="2274.0" stroke="#000" stroke-width="4" shape-rendering="crispEdges"/>
<line x1="407" y1="2307.5" x2="449" y2="2307.5" stroke="#000" stroke-width="3" shape-rendering="crispEdges"/>
<line x1="2074" y1="2307.5" x2="2032" y2="2307.5" stroke="#000" stroke-width="3" shape-rendering="crispEdges"/>
<line x1="407" y1="2344.0" x2="428" y2="2344.0" stroke="#000" stroke-width="4" shape-rendering="crispEdges"/>
<line x1="2074" y1="2344.0" x2="2053" y2="2344.0" stroke="#000" stroke-width="4" shape-rendering="crispEdges"/>
<line x1="407" y1="2378.0" x2="428" y2="2378.0" stroke="#000" stroke-width="4" shape-rendering="crispEdges"/>
<line x1="2074" y1="2378.0" x2="2053" y2="2378.0" stroke="#000" stroke-width="4" shape-rendering="crispEdges"/>
<line x1="407" y1="2411.0" x2="428" y2="2411.0" stroke="#000" stroke-width="4" shape-rendering="crispEdges"/>
<line x1="2074" y1="2411.0" x2="2053" y2="2411.0" stroke="#000" stroke-width="4" shape-rendering="crispEdges"/>
<line x1="407" y1="2444.5" x2="449" y2="2444.5" stroke="#000" stroke-width="3" shape-rendering="crispEdges"/>
<line x1="2074" y1="2444.5" x2="2032" y2="2444.5" stroke="#000" stroke-width="3" shape-rendering="crispEdges"/>
<line x1="407" y1="2478.0" x2="428" y2="2478.0" stroke="#000" stroke-width="4" shape-rendering="crispEdges"/>
<line x1="2074" y1="2478.0" x2="2053" y2="2478.0" stroke="#000" stroke-width="4" shape-rendering="crispEdges"/>
<line x1="407" y1="2512.0" x2="428" y2="2512.0" stroke="#000" stroke-width="4" shape-rendering="crispEdges"/>
<line x1="2074" y1="2512.0" x2="2053" y2="2512.0" stroke="#000" stroke-width="4" shape-rendering="crispEdges"/>
<line x1="407" y1="2544.0" x2="428" y2="2544.0" stroke="#000" stroke-width="4" shape-rendering="crispEdges"/>
<line x1="2074" y1="2544.0" x2="2053" y2="2544.0" stroke="#000" stroke-width="4" shape-rendering="crispEdges"/>
<line x1="407" y1="2578.5" x2="449" y2="2578.5" stroke="#000" stroke-width="3" shape-rendering="crispEdges"/>
<line x1="2074" y1="2578.5" x2="2032" y2="2578.5" stroke="#000" stroke-width="3" shape-rendering="crispEdges"/>
<line x1="407" y1="2615.0" x2="428" y2="2615.0" stroke="#000" stroke-width="4" shape-rendering="crispEdges"/>
<line x1="2074" y1="2615.0" x2="2053" y2="2615.0" stroke="#000" stroke-width="4" shape-rendering="crispEdges"/>
<line x1="407" y1="2648.0" x2="428" y2="2648.0" stroke="#000" stroke-width="4" shape-rendering="crispEdges"/>
<line x1="2074" y1="2648.0" x2="2053" y2="2648.0" stroke="#000" stroke-width="4" shape-rendering="crispEdges"/>
<line x1="407" y1="2682.0" x2="428" y2="2682.0" stroke="#000" stroke-width="4" shape-rendering="crispEdges"/>
<line x1="2074" y1="2682.0" x2="2053" y2="2682.0" stroke="#000" stroke-width="4" shape-rendering="crispEdges"/>
<line x1="407" y1="2716.5" x2="449" y2="2716.5" stroke="#000" stroke-width="3" shape-rendering="crispEdges"/>
<line x1="2074" y1="2716.5" x2="2032" y2="2716.5" stroke="#000" stroke-width="3" shape-rendering="crispEdges"/>
<line x1="407" y1="2749.0" x2="428" y2="2749.0" stroke="#000" stroke-width="4" shape-rendering="crispEdges"/>
<line x1="2074" y1="2749.0" x2="2053" y2="2749.0" stroke="#000" stroke-width="4" shape-rendering="crispEdges"/>
<line x1="407" y1="2782.0" x2="428" y2="2782.0" stroke="#000" stroke-width="4" shape-rendering="crispEdges"/>
<line x1="2074" y1="2782.0" x2="2053" y2="2782.0" stroke="#000" stroke-width="4" shape-rendering="crispEdges"/>
<line x1="407" y1="2816.0" x2="428" y2="2816.0" stroke="#000" stroke-width="4" shape-rendering="crispEdges"/>
<line x1="2074" y1="2816.0" x2="2053" y2="2816.0" stroke="#000" stroke-width="4" shape-rendering="crispEdges"/>
<polyline points="447.0,2848.0 527.0,2848.0 532.4,2843.3 537.8,2848.0 543.3,2841.5 546.9,2836.0 548.7,2848.0 672.0,2848.0 679.3,2844.4 686.5,2848.0 699.2,2845.0 710.1,2832.4 717.4,2848.0 733.7,2845.0 779.0,2845.0 784.5,2848.0 813.5,2848.0 822.6,2839.6 831.6,2799.7 840.7,2830.6 849.8,2839.6 857.0,2836.0 869.7,2825.1 887.8,2845.0 918.7,2845.0 927.7,2839.6 944.1,2827.7 951.3,2828.8 958.6,2834.2 980.3,2845.0 988.7,2844.3 1006.0,2836.2 1014.7,2815.9 1023.4,2707.4 1027.7,2577.2 1032.1,2470.2 1036.4,2606.2 1039.3,2745.0 1048.0,2798.6 1061.0,2807.3 1069.7,2802.9 1078.4,2779.8 1085.6,2693.0 1090.0,2476.0 1091.4,2374.7 1094.9,2283.5 1105.9,2342.8 1108.8,2432.5 1111.7,2548.3 1114.5,2632.2 1127.6,2698.8 1136.3,2694.4 1143.5,2648.1 1156.5,2645.2 1165.2,2707.4 1176.8,2781.2 1189.8,2798.6 1202.8,2798.6 1223.1,2746.5 1243.3,2811.6 1247.7,2824.6 1262.1,2837.6 1286.7,2844.3 1326.0,2844.8 1347.7,2838.5 1364.6,2836.1 1403.3,2844.8 1425.1,2848.2 1454.1,2846.7 1483.1,2843.3 1519.4,2835.1 1536.3,2827.4 1555.7,2831.2 1575.0,2840.9 1599.2,2844.8 1618.6,2844.8 1633.1,2848.2 1729.8,2848.2 1754.0,2844.8 1773.4,2844.8 1792.7,2840.0 1826.6,2840.0 1860.4,2844.8 1879.8,2844.8 1903.9,2848.2 2029.7,2848.2 2061.1,2843.3" fill="none" stroke="#ff0000" stroke-width="3.7" stroke-linejoin="round" stroke-linecap="butt" clip-path="url(#c3)"/>
<rect x="407" y="2224" width="1667" height="625" fill="none" stroke="#000" stroke-width="4" shape-rendering="crispEdges"/>
<text transform="translate(448.09,2195.60) scale(0.376,0.4)" font-family="Liberation Sans" font-size="100" fill="#000" xml:space="preserve">Usoskin cosmic rays</text>
<text transform="translate(308.74,2319.90) scale(0.376,0.4)" font-family="Liberation Sans" font-size="100" fill="#000" xml:space="preserve">1.6</text>
<text transform="translate(309.12,2457.50) scale(0.376,0.4)" font-family="Liberation Sans" font-size="100" fill="#000" xml:space="preserve">1.2</text>
<text transform="translate(308.74,2590.70) scale(0.376,0.4)" font-family="Liberation Sans" font-size="100" fill="#000" xml:space="preserve">0.8</text>
<text transform="translate(308.36,2729.00) scale(0.376,0.4)" font-family="Liberation Sans" font-size="100" fill="#000" xml:space="preserve">0.4</text>
<text transform="translate(308.74,2862.00) scale(0.376,0.4)" font-family="Liberation Sans" font-size="100" fill="#000" xml:space="preserve">0.0</text>
<text transform="translate(391.46,2907.00) scale(0.376,0.4)" font-family="Liberation Sans" font-size="100" fill="#000" xml:space="preserve">4</text>
<text transform="translate(809.86,2907.00) scale(0.376,0.4)" font-family="Liberation Sans" font-size="100" fill="#000" xml:space="preserve">8</text>
<text transform="translate(1230.47,2907.00) scale(0.376,0.4)" font-family="Liberation Sans" font-size="100" fill="#000" xml:space="preserve">12</text>
<text transform="translate(1645.78,2907.00) scale(0.376,0.4)" font-family="Liberation Sans" font-size="100" fill="#000" xml:space="preserve">16</text>
<text transform="translate(2061.74,2907.00) scale(0.376,0.4)" font-family="Liberation Sans" font-size="100" fill="#000" xml:space="preserve">20</text>
<text transform="translate(1102.33,2978.00) scale(0.376,0.4)" font-family="Liberation Sans" font-size="100" fill="#000" xml:space="preserve">Period (yr)</text>
<text transform="translate(194.90,2637.61) rotate(-90) scale(0.376,0.4)" font-family="Liberation Sans" font-size="100" fill="#000" xml:space="preserve">MEM Spectrum</text>
<text transform="translate(1060.98,2274.00) scale(0.376,0.4)" font-family="Liberation Sans" font-size="100" fill="#000" xml:space="preserve">10.6</text>
<text transform="translate(1010.48,2452.80) scale(0.376,0.4)" font-family="Liberation Sans" font-size="100" fill="#000" xml:space="preserve">10</text>
<text transform="translate(1125.18,2636.50) scale(0.376,0.4)" font-family="Liberation Sans" font-size="100" fill="#000" xml:space="preserve">11.2</text>
<text transform="translate(1178.79,2723.30) scale(0.376,0.4)" font-family="Liberation Sans" font-size="100" fill="#000" xml:space="preserve">11.8</text>
<text transform="translate(685.37,2816.00) scale(0.376,0.4)" font-family="Liberation Sans" font-size="100" fill="#000" xml:space="preserve">6.9</text>
<text transform="translate(800.56,2777.30) scale(0.376,0.4)" font-family="Liberation Sans" font-size="100" fill="#000" xml:space="preserve">8.1</text>
<text transform="translate(927.37,2816.00) scale(0.376,0.4)" font-family="Liberation Sans" font-size="100" fill="#000" xml:space="preserve">9.2</text>
<text transform="translate(1490.18,2815.30) scale(0.376,0.4)" font-family="Liberation Sans" font-size="100" fill="#000" xml:space="preserve">14.8</text>
</svg></body></html>
